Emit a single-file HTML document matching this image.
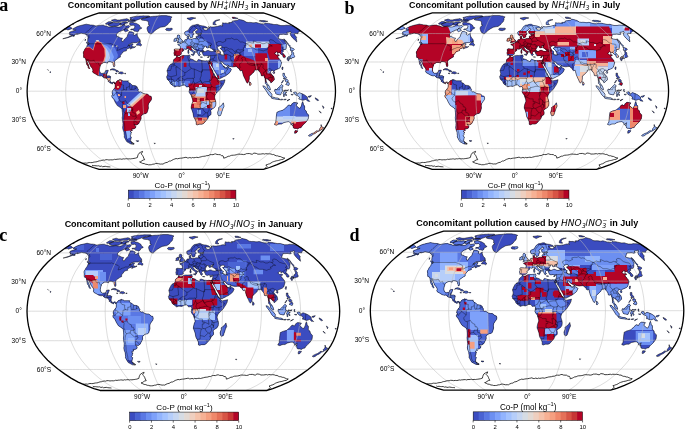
<!DOCTYPE html><html><head><meta charset="utf-8"><style>html,body{margin:0;padding:0;background:#fff;overflow:hidden;}svg{display:block;}.tl{font-family:"Liberation Sans",sans-serif;fill:#000;}.cb{font-family:"Liberation Sans",sans-serif;fill:#000;}.tt{font-family:"Liberation Sans",sans-serif;font-weight:bold;fill:#000;}.it{font-family:"DejaVu Sans","Liberation Sans",sans-serif;font-style:oblique;font-weight:normal;}.sl{font-family:"Liberation Sans",sans-serif;font-style:normal;}.pl{font-family:"Liberation Serif",serif;font-size:18px;font-weight:bold;fill:#000;}</style></head><body>
<svg width="685" height="429" viewBox="0 0 685 429">
<rect width="685" height="429" fill="#fff"/>
<defs>
<path id="land" d="M-108.6,-62.3L-106.4,-63.5L-104.2,-64.6L-102.5,-65.2L-100.7,-65.7L-99.3,-66.0L-97.8,-66.4L-96.4,-66.7L-95.0,-67.0L-94.2,-66.9L-93.5,-66.7L-92.7,-66.6L-91.7,-66.4L-90.8,-66.2L-89.8,-66.2L-88.9,-66.1L-87.9,-66.0L-87.1,-65.7L-86.2,-65.4L-85.3,-65.2L-84.2,-65.4L-83.0,-65.6L-81.5,-65.8L-80.0,-66.0L-79.0,-66.0L-78.0,-66.1L-77.4,-65.8L-76.9,-65.5L-75.8,-65.3L-74.7,-65.2L-74.0,-64.8L-73.3,-64.5L-72.6,-64.2L-71.5,-64.2L-70.4,-64.3L-69.3,-64.3L-67.8,-64.5L-66.4,-64.7L-65.6,-64.5L-64.7,-64.3L-63.8,-64.1L-62.9,-64.1L-61.9,-64.2L-60.1,-64.7L-58.3,-66.1L-56.5,-67.5L-56.6,-66.0L-56.1,-65.5L-55.6,-65.0L-54.0,-65.4L-52.5,-65.7L-51.9,-65.2L-51.4,-64.7L-52.3,-63.8L-53.3,-62.9L-54.3,-63.0L-55.4,-63.1L-56.9,-61.4L-58.4,-61.0L-59.8,-60.5L-61.4,-59.7L-63.1,-58.8L-65.0,-57.0L-64.7,-56.3L-64.6,-54.9L-63.6,-54.6L-62.5,-54.3L-61.6,-53.8L-60.6,-53.2L-59.7,-53.1L-58.8,-53.0L-59.3,-52.1L-59.8,-51.1L-59.2,-49.7L-58.1,-49.7L-57.5,-50.9L-56.8,-52.0L-55.5,-53.2L-54.2,-54.3L-53.8,-56.1L-52.8,-57.9L-52.3,-59.5L-51.2,-59.5L-50.2,-59.5L-49.3,-59.2L-48.5,-58.9L-47.4,-58.3L-48.0,-56.6L-46.9,-55.9L-45.6,-56.6L-44.0,-57.7L-44.1,-56.1L-43.4,-54.3L-42.8,-53.1L-42.2,-52.6L-41.5,-52.0L-41.0,-50.4L-42.3,-49.6L-43.4,-49.1L-44.5,-48.5L-46.0,-48.5L-47.5,-48.5L-48.5,-48.4L-49.4,-48.3L-51.3,-47.4L-53.4,-45.7L-52.5,-46.0L-50.9,-46.7L-49.4,-47.5L-48.1,-47.2L-48.9,-46.2L-49.3,-45.5L-49.2,-44.7L-48.1,-44.5L-47.0,-44.2L-45.7,-44.7L-45.7,-44.4L-46.8,-43.8L-47.8,-43.4L-48.9,-43.1L-49.9,-42.6L-50.8,-42.1L-51.0,-42.9L-49.7,-43.9L-51.0,-43.7L-51.7,-43.2L-53.3,-42.6L-54.3,-42.2L-55.1,-41.3L-54.7,-40.5L-55.9,-40.1L-56.9,-39.9L-58.2,-39.4L-58.6,-38.5L-59.5,-37.7L-59.9,-37.0L-60.9,-35.9L-60.9,-34.9L-60.9,-34.1L-61.9,-33.7L-63.2,-32.9L-64.5,-32.0L-66.0,-31.0L-66.8,-29.6L-66.7,-28.5L-66.6,-27.4L-66.4,-25.7L-67.0,-24.4L-67.6,-24.5L-67.9,-25.7L-68.4,-27.2L-68.2,-28.1L-68.9,-29.0L-69.5,-29.0L-71.0,-29.5L-72.3,-29.6L-73.6,-29.3L-73.7,-28.1L-74.6,-28.3L-76.2,-28.7L-77.8,-28.6L-79.8,-27.3L-80.7,-26.5L-81.1,-24.9L-81.6,-23.3L-81.9,-21.3L-81.7,-20.0L-81.1,-18.6L-80.1,-18.0L-79.5,-17.7L-78.0,-18.0L-77.0,-18.0L-76.2,-19.2L-75.9,-20.4L-74.3,-20.9L-73.0,-20.9L-73.5,-19.4L-74.1,-17.9L-74.6,-16.8L-75.0,-15.4L-74.1,-15.3L-72.4,-15.4L-71.2,-15.1L-70.6,-14.4L-71.0,-12.6L-71.3,-10.9L-70.8,-9.7L-70.0,-8.7L-69.1,-8.6L-68.1,-9.2L-67.0,-9.0L-66.1,-8.3L-66.5,-7.3L-67.0,-8.0L-67.9,-8.6L-68.7,-8.0L-68.7,-7.2L-69.4,-7.4L-70.4,-8.0L-71.4,-8.3L-72.3,-9.5L-73.1,-9.6L-73.1,-10.7L-74.0,-12.1L-74.5,-12.8L-76.1,-13.1L-77.7,-13.5L-78.5,-14.1L-79.6,-15.5L-80.9,-15.2L-82.2,-15.4L-83.4,-15.8L-85.0,-16.7L-86.1,-17.4L-87.1,-17.9L-88.1,-18.4L-88.8,-19.8L-88.3,-21.0L-88.8,-22.5L-89.7,-23.8L-90.7,-25.0L-91.5,-26.7L-92.0,-27.9L-92.6,-29.1L-92.7,-30.3L-93.8,-30.7L-94.3,-29.6L-93.7,-28.1L-93.0,-26.7L-92.7,-25.2L-92.2,-23.8L-91.6,-22.8L-92.0,-22.2L-92.4,-22.8L-93.3,-23.9L-93.3,-25.4L-94.2,-26.0L-94.7,-27.2L-95.0,-28.9L-95.3,-30.5L-95.5,-31.6L-95.9,-33.0L-96.7,-33.4L-97.6,-33.6L-97.8,-35.5L-97.7,-36.7L-98.0,-38.3L-97.9,-39.3L-97.0,-40.7L-96.4,-42.1L-95.5,-43.3L-94.6,-44.5L-94.2,-45.7L-93.7,-46.8L-92.5,-46.7L-92.1,-47.8L-93.0,-48.8L-93.8,-49.7L-93.6,-50.9L-93.5,-52.3L-93.3,-53.4L-93.5,-54.8L-93.9,-55.3L-94.2,-55.9L-95.1,-56.4L-95.6,-56.7L-96.0,-57.1L-96.7,-57.3L-97.4,-57.5L-98.2,-57.6L-98.9,-57.7L-99.6,-57.9L-100.2,-58.1L-102.5,-57.3L-103.6,-57.0L-104.6,-56.7L-104.1,-57.6L-106.3,-56.6L-107.7,-55.7L-110.0,-54.8L-112.4,-53.9L-113.6,-53.5L-114.9,-53.2L-116.1,-52.9L-117.2,-52.7L-118.5,-52.4L-117.2,-52.8L-115.9,-53.2L-114.7,-53.5L-113.5,-53.9L-110.6,-55.2L-108.7,-56.3L-110.2,-56.2L-111.0,-56.2L-111.8,-56.3L-110.9,-57.4L-111.6,-57.5L-112.2,-57.7L-111.7,-58.5L-111.9,-58.9L-109.8,-59.8L-108.1,-60.3L-105.9,-61.0L-105.2,-61.4L-105.9,-61.4L-106.6,-61.4L-107.9,-61.4L-108.4,-61.8ZM-66.1,-8.3L-65.6,-8.3L-64.4,-10.2L-63.5,-10.7L-62.4,-11.0L-61.3,-11.8L-60.9,-11.2L-61.2,-11.2L-59.8,-11.2L-59.4,-11.2L-58.4,-10.3L-57.3,-10.3L-56.3,-10.3L-54.7,-10.3L-53.3,-10.3L-52.8,-10.4L-53.3,-9.8L-52.1,-8.2L-51.1,-8.0L-49.7,-6.6L-48.7,-5.8L-47.0,-5.7L-46.0,-5.5L-44.5,-4.7L-44.1,-4.1L-43.7,-2.9L-42.8,-1.7L-43.3,-0.5L-42.8,0.0L-41.5,1.0L-40.7,0.6L-39.4,1.4L-38.1,2.2L-37.0,2.5L-36.0,2.7L-34.2,2.8L-33.0,3.6L-31.7,4.8L-30.2,5.1L-29.7,7.0L-30.0,8.7L-31.5,10.7L-32.7,12.5L-32.9,13.5L-33.1,14.5L-33.0,15.8L-32.9,17.0L-33.4,18.9L-33.8,20.1L-34.2,21.2L-35.2,22.3L-36.2,22.5L-37.2,22.6L-38.8,23.4L-40.3,25.2L-40.2,26.4L-40.2,27.6L-41.1,29.6L-41.7,30.6L-42.6,32.5L-43.4,33.0L-44.4,33.8L-45.7,33.7L-47.4,33.0L-46.2,34.4L-45.5,35.3L-45.8,36.8L-46.7,37.3L-47.6,37.7L-48.6,37.7L-49.5,37.6L-48.9,39.3L-49.8,39.5L-50.7,39.7L-50.8,40.7L-49.5,41.4L-50.4,41.9L-50.3,43.6L-51.4,44.7L-49.9,45.9L-50.2,47.0L-50.5,48.1L-50.7,49.7L-50.0,50.5L-49.7,51.1L-48.5,51.9L-47.3,52.8L-48.3,52.9L-49.2,52.9L-50.1,52.9L-51.3,52.3L-52.5,51.6L-54.4,50.6L-55.1,49.5L-55.8,48.3L-56.4,47.1L-57.1,45.9L-56.9,44.5L-57.2,42.6L-57.3,41.2L-57.7,40.0L-58.2,38.8L-58.5,37.6L-58.7,36.4L-58.4,34.4L-58.4,33.2L-58.3,32.0L-58.6,30.5L-58.8,29.1L-58.9,27.9L-59.1,26.7L-58.9,25.5L-58.8,24.2L-58.8,22.8L-58.9,21.3L-59.1,19.6L-59.3,17.9L-60.4,16.8L-61.8,15.8L-62.9,15.1L-64.0,14.4L-64.8,13.1L-66.0,11.2L-66.7,9.7L-67.4,8.2L-68.4,7.0L-69.4,5.8L-69.5,4.4L-68.7,3.3L-68.5,2.4L-69.3,2.1L-69.0,0.5L-68.6,-0.8L-67.7,-1.5L-67.4,-2.4L-66.3,-3.4L-66.1,-5.3L-66.2,-6.8L-66.6,-7.2ZM28.0,-30.4L26.5,-30.3L25.0,-30.5L24.5,-30.3L23.5,-30.3L22.5,-30.4L21.6,-30.5L20.6,-30.6L19.2,-31.2L18.1,-31.5L17.1,-31.8L16.3,-31.0L16.4,-30.0L15.6,-29.4L14.3,-30.1L12.7,-30.5L12.4,-31.3L10.7,-31.9L9.4,-32.2L8.5,-32.7L8.3,-33.5L8.9,-34.4L8.4,-35.4L8.8,-35.9L8.2,-36.1L7.2,-36.0L6.4,-35.8L5.2,-35.7L4.0,-35.6L2.4,-35.7L0.8,-35.4L-0.8,-34.6L-1.8,-34.0L-3.2,-34.1L-4.3,-34.8L-4.7,-34.7L-5.1,-33.9L-5.5,-33.0L-6.9,-32.3L-7.6,-31.5L-8.0,-30.1L-7.9,-29.5L-8.2,-28.6L-9.5,-27.3L-10.8,-26.8L-12.1,-25.4L-12.6,-24.3L-13.2,-23.3L-13.8,-21.8L-14.3,-20.4L-13.9,-18.9L-13.6,-17.5L-14.0,-15.7L-14.8,-14.3L-14.3,-13.1L-14.2,-12.0L-13.2,-11.2L-12.4,-10.5L-11.5,-9.3L-11.2,-8.2L-10.7,-7.3L-9.8,-6.7L-8.7,-5.8L-7.8,-5.1L-6.8,-4.4L-6.4,-4.3L-4.7,-4.9L-3.4,-5.0L-1.7,-4.7L0.0,-5.4L1.3,-6.0L3.0,-6.2L3.8,-6.0L4.7,-4.8L5.1,-4.2L6.0,-4.3L7.3,-4.5L8.1,-3.9L8.4,-2.9L8.2,-1.5L8.0,-0.5L7.7,0.7L8.6,2.4L9.6,3.7L10.3,4.8L10.5,5.9L10.9,7.1L11.3,8.2L11.6,10.2L11.1,11.4L10.6,12.6L10.3,14.0L10.0,15.3L9.9,17.0L10.5,18.4L11.1,20.1L11.7,21.8L11.9,23.0L12.1,24.2L12.6,26.2L13.6,27.7L14.4,29.6L14.9,31.0L14.9,33.0L15.0,33.4L16.2,33.7L17.8,33.0L19.3,33.0L20.7,33.0L22.4,32.2L23.7,30.7L25.1,29.1L26.4,27.6L26.9,26.4L27.3,25.2L28.2,24.5L29.2,23.8L29.7,23.1L29.8,21.3L29.4,19.7L29.3,19.2L30.8,17.9L31.9,17.2L33.0,16.5L34.3,14.5L34.5,13.1L34.6,11.6L34.3,10.0L34.0,8.9L33.7,7.8L33.3,6.3L33.5,4.6L34.4,2.7L35.5,1.6L36.4,0.6L37.3,-0.5L39.0,-1.9L39.8,-3.2L40.6,-4.4L41.9,-6.3L42.5,-7.5L43.1,-8.7L43.4,-10.1L43.7,-11.4L42.2,-11.0L41.1,-10.8L40.0,-10.6L38.4,-10.1L37.1,-11.0L36.8,-11.2L36.2,-12.2L35.2,-13.5L33.9,-15.0L32.9,-17.0L31.4,-18.9L31.2,-20.4L30.6,-21.8L29.7,-23.2L29.2,-24.2L28.7,-25.2L27.7,-27.0L27.3,-28.0L26.8,-29.0L27.3,-27.6L28.5,-27.0L28.7,-28.6ZM28.7,-28.6L29.4,-27.2L30.4,-25.2L31.7,-23.3L32.3,-22.1L32.9,-20.9L34.1,-18.9L34.8,-17.7L35.5,-16.5L36.2,-14.5L36.5,-13.4L36.8,-12.3L38.3,-12.4L39.5,-13.0L40.8,-13.6L42.4,-14.5L43.3,-14.9L44.2,-15.3L45.7,-16.4L46.9,-17.3L47.9,-18.1L48.7,-18.9L49.2,-19.9L50.1,-21.8L49.1,-22.9L47.8,-23.2L47.0,-24.1L46.8,-25.6L46.2,-24.7L45.5,-23.6L44.5,-23.4L43.4,-23.3L43.0,-24.4L42.6,-25.3L42.4,-24.1L41.7,-25.5L41.0,-26.4L40.1,-27.6L39.5,-29.0L40.2,-29.4L41.3,-29.1L42.1,-27.8L43.5,-26.7L45.3,-25.8L46.6,-26.3L47.7,-25.0L48.6,-24.8L49.6,-24.6L51.3,-24.3L52.3,-24.4L53.3,-24.5L54.4,-24.6L55.5,-24.6L56.4,-23.3L57.3,-22.8L58.6,-22.1L57.8,-21.6L59.2,-20.4L60.8,-20.9L61.1,-19.6L61.4,-18.4L61.8,-17.0L62.2,-15.5L62.8,-14.3L63.3,-13.1L64.3,-11.2L65.1,-9.2L66.2,-7.9L66.7,-8.7L67.6,-10.0L67.8,-11.3L68.0,-12.6L68.0,-13.8L68.0,-15.0L68.8,-15.6L69.6,-16.2L70.9,-17.7L71.8,-18.5L72.8,-19.3L73.0,-20.9L74.2,-21.1L75.9,-21.3L76.9,-21.7L77.6,-20.1L78.7,-18.9L79.6,-17.5L80.0,-15.5L80.9,-15.3L82.5,-16.0L82.9,-14.5L83.7,-12.6L83.9,-11.2L84.1,-9.7L84.0,-7.8L85.5,-6.3L85.8,-5.1L86.0,-3.9L86.7,-2.7L87.7,-2.0L88.6,-1.3L89.2,-1.5L88.9,-2.7L88.5,-3.9L87.9,-4.9L87.4,-6.0L85.9,-7.1L85.6,-8.1L85.3,-9.2L84.6,-10.2L84.6,-12.1L85.1,-13.1L85.8,-12.3L87.2,-11.6L87.8,-10.5L89.1,-10.1L89.5,-8.3L90.9,-9.2L91.6,-10.2L93.0,-11.2L92.9,-13.1L92.2,-15.0L90.5,-16.5L89.2,-18.4L89.5,-19.9L90.6,-20.9L91.5,-20.9L92.5,-19.7L92.8,-20.4L93.9,-21.1L95.1,-21.6L96.3,-22.1L97.8,-22.8L98.9,-23.8L99.4,-25.2L99.8,-26.7L100.2,-28.1L100.3,-29.1L99.3,-29.9L99.7,-30.5L98.5,-31.5L97.4,-33.3L96.3,-33.9L96.5,-34.9L97.3,-35.4L98.1,-35.9L96.6,-36.6L95.2,-36.1L93.9,-37.1L93.2,-37.8L94.2,-38.3L95.1,-39.5L96.1,-39.3L96.3,-37.6L97.0,-38.3L98.1,-38.7L99.8,-36.8L101.1,-36.4L101.5,-35.2L102.0,-33.9L103.2,-33.5L104.3,-34.1L103.9,-35.4L102.3,-37.1L100.8,-38.6L101.4,-39.1L102.0,-39.5L101.9,-41.0L102.5,-41.7L103.8,-41.5L104.8,-42.4L105.0,-43.9L105.0,-45.5L105.4,-46.9L104.1,-48.8L103.4,-50.4L101.9,-51.6L100.5,-51.8L99.2,-52.0L98.0,-52.4L96.9,-52.8L97.2,-53.9L97.5,-54.7L97.7,-55.5L98.0,-56.1L98.2,-56.7L99.4,-56.8L100.5,-56.8L101.5,-56.9L102.4,-57.0L103.7,-56.8L105.0,-56.6L105.7,-56.7L106.4,-56.8L106.0,-57.5L105.5,-58.8L106.6,-58.9L107.6,-59.0L108.4,-59.3L109.2,-59.7L109.8,-58.3L108.9,-57.9L109.2,-56.8L109.4,-55.7L110.5,-54.3L111.6,-52.9L113.6,-51.1L115.5,-49.2L115.3,-51.0L114.9,-52.5L115.1,-53.2L115.3,-53.9L113.8,-55.7L113.0,-57.3L113.3,-57.6L113.7,-57.9L115.2,-57.7L116.6,-57.5L116.7,-58.1L116.7,-58.8L117.4,-59.2L118.2,-59.7L118.9,-60.1L117.1,-61.8L114.7,-63.5L112.2,-65.1L110.4,-65.4L108.6,-65.8L107.3,-65.9L106.0,-65.9L104.7,-66.0L103.7,-65.8L102.8,-65.6L101.7,-65.6L100.7,-65.6L99.6,-65.6L97.5,-66.2L95.5,-66.8L94.5,-66.7L93.5,-66.7L92.6,-66.7L90.8,-67.1L89.1,-67.4L87.4,-67.8L86.1,-67.9L84.8,-67.9L83.6,-68.0L83.2,-67.6L82.8,-67.2L81.7,-67.3L80.6,-67.3L79.5,-67.4L78.4,-67.7L77.3,-68.0L76.0,-68.4L74.8,-68.7L74.2,-68.7L73.3,-68.5L72.3,-68.4L71.2,-68.5L70.0,-68.7L68.8,-68.8L67.8,-68.8L66.9,-68.7L65.9,-68.9L64.9,-69.1L62.5,-70.6L60.8,-71.1L59.2,-71.5L57.5,-71.9L57.0,-71.5L56.4,-71.0L55.5,-70.8L54.5,-70.6L53.7,-70.5L52.9,-70.4L52.1,-70.3L51.3,-69.9L50.5,-69.5L50.7,-68.7L49.6,-68.7L48.5,-68.7L47.4,-68.7L48.1,-67.6L46.7,-67.8L45.5,-68.0L44.3,-68.2L43.3,-68.0L42.2,-68.2L41.2,-68.4L41.4,-67.2L40.7,-66.4L41.7,-65.2L40.4,-65.4L39.0,-65.6L38.2,-65.4L37.4,-65.2L36.5,-64.9L35.7,-64.7L34.8,-64.6L33.9,-64.5L32.8,-64.3L31.6,-64.2L30.2,-64.3L28.9,-64.5L28.0,-63.5L27.2,-64.7L27.6,-63.8L28.0,-62.8L27.2,-62.7L26.4,-62.7L26.2,-61.4L25.4,-61.2L24.7,-61.0L23.8,-61.1L22.9,-61.2L22.2,-62.7L21.1,-63.1L22.1,-63.2L23.0,-63.3L24.1,-63.2L25.2,-63.2L26.3,-63.1L25.3,-64.2L23.8,-64.7L22.4,-65.2L21.5,-65.3L20.5,-65.4L19.5,-65.6L18.5,-65.8L17.0,-66.8L16.4,-66.8L15.7,-66.9L14.6,-66.5L13.5,-66.2L12.3,-66.0L11.1,-65.8L10.3,-65.2L9.4,-64.6L8.3,-63.1L7.5,-61.8L6.6,-60.5L5.6,-60.2L4.7,-59.9L3.4,-59.0L3.4,-57.5L3.8,-56.4L4.9,-55.7L5.9,-55.9L6.9,-56.6L7.6,-56.4L8.2,-55.4L8.8,-54.3L9.2,-53.4L10.2,-53.5L11.3,-54.0L11.6,-55.2L11.4,-56.1L12.7,-56.9L12.3,-57.9L11.7,-58.8L11.7,-59.7L12.6,-60.2L13.5,-60.8L14.0,-61.6L14.8,-62.1L15.5,-62.5L16.6,-61.8L16.3,-61.0L15.3,-60.5L14.3,-60.1L14.4,-58.8L14.6,-57.9L15.7,-57.3L16.4,-57.5L17.1,-57.6L18.1,-57.8L19.1,-57.9L20.4,-57.5L19.2,-57.0L18.2,-56.9L17.4,-56.9L16.5,-56.8L16.3,-56.1L17.0,-55.5L16.9,-54.8L15.4,-55.2L14.8,-54.6L15.0,-53.4L14.2,-52.5L13.3,-52.7L11.9,-52.5L11.1,-52.2L10.2,-51.9L9.4,-52.1L8.6,-52.2L7.9,-52.0L7.8,-52.6L7.1,-52.8L7.4,-54.3L7.4,-55.4L6.7,-54.9L5.8,-54.6L5.8,-53.4L6.2,-52.0L5.1,-51.6L3.6,-51.4L3.3,-50.6L2.8,-49.7L1.8,-49.3L1.2,-49.1L1.1,-48.5L0.1,-48.0L-0.9,-47.7L-1.1,-48.0L-1.4,-47.1L-2.2,-47.2L-3.5,-46.9L-3.2,-46.2L-1.9,-45.8L-1.1,-44.7L-0.9,-43.3L-1.2,-42.0L-2.7,-42.1L-4.3,-42.2L-5.2,-42.3L-6.2,-42.3L-7.1,-41.8L-7.0,-40.7L-6.9,-39.7L-7.4,-38.3L-7.3,-37.4L-7.0,-36.7L-7.2,-35.9L-6.0,-36.0L-5.0,-35.7L-4.5,-34.9L-3.6,-35.6L-2.7,-35.6L-1.8,-35.6L-0.6,-36.5L0.2,-37.5L-0.2,-38.3L0.6,-39.4L1.7,-40.1L2.5,-40.7L2.3,-41.7L3.1,-42.1L4.7,-41.8L5.8,-42.4L6.8,-43.0L7.9,-42.5L8.2,-41.6L9.4,-40.6L10.6,-39.9L11.8,-39.0L12.5,-37.3L12.8,-36.8L13.2,-37.7L13.6,-38.2L13.0,-39.0L13.6,-39.3L14.6,-38.9L14.2,-39.4L12.5,-40.2L10.9,-41.2L10.5,-42.2L9.5,-43.1L9.4,-44.0L10.5,-44.2L10.4,-43.6L11.1,-43.9L12.0,-42.6L13.6,-41.7L14.8,-40.8L15.3,-39.7L15.2,-39.2L15.8,-38.5L16.7,-37.3L17.2,-35.9L18.1,-35.3L18.4,-36.4L19.2,-36.6L18.3,-37.3L18.0,-38.3L18.5,-39.0L19.3,-39.6L20.4,-39.5L20.9,-39.3L21.6,-39.6L22.8,-39.9L21.9,-40.7L21.5,-41.7L22.1,-42.8L22.8,-43.8L23.2,-45.0L24.3,-45.0L25.6,-44.5L24.9,-44.0L25.8,-43.1L26.9,-43.4L28.0,-43.9L27.2,-44.1L26.7,-44.8L27.5,-45.2L28.4,-45.6L29.7,-45.7L28.9,-45.0L28.7,-43.9L28.4,-43.6L29.3,-43.0L30.5,-42.4L32.4,-40.9L32.6,-40.3L31.4,-39.7L30.3,-39.6L28.6,-40.0L27.3,-40.7L25.8,-40.6L24.3,-39.8L22.9,-39.8L22.8,-39.4L21.3,-39.2L20.7,-38.8L21.3,-37.6L21.7,-36.7L22.0,-35.9L22.5,-35.6L23.7,-35.1L24.5,-35.7L25.7,-35.4L27.3,-35.2L28.5,-35.5L29.0,-35.5L28.8,-34.7L29.1,-33.5L28.8,-32.5L28.5,-31.8L28.3,-30.9L28.0,-30.4ZM-44.0,-59.2L-42.3,-60.5L-42.4,-61.6L-41.2,-62.1L-39.9,-62.7L-39.5,-63.3L-40.4,-63.8L-41.3,-64.3L-41.6,-65.2L-41.9,-66.0L-42.5,-66.4L-43.2,-66.8L-44.0,-67.3L-44.9,-67.8L-45.9,-68.0L-47.0,-68.2L-47.7,-68.5L-48.5,-68.9L-49.5,-68.8L-50.5,-68.6L-51.5,-68.5L-51.7,-67.6L-51.5,-66.8L-51.4,-66.0L-50.4,-65.9L-49.4,-65.8L-47.8,-66.2L-47.2,-65.4L-46.7,-64.9L-46.3,-64.3L-46.8,-63.7L-46.4,-63.1L-48.2,-62.2L-49.3,-62.1L-50.3,-62.1L-50.7,-61.4L-49.7,-61.4L-48.7,-61.5L-47.7,-61.0L-47.2,-60.1L-46.4,-60.0L-45.6,-59.9L-44.8,-59.6ZM-72.0,-67.4L-69.7,-68.4L-68.5,-68.5L-67.2,-68.7L-66.2,-68.5L-65.2,-68.4L-63.9,-68.5L-62.5,-68.7L-61.8,-68.5L-61.1,-68.4L-60.3,-68.2L-60.9,-67.3L-61.5,-66.4L-62.9,-65.7L-64.3,-65.0L-65.5,-65.0L-66.7,-65.1L-68.1,-64.9L-69.5,-64.7L-70.6,-64.9L-71.6,-65.2L-72.3,-65.6L-72.9,-66.0L-73.0,-66.8ZM-75.9,-67.4L-74.3,-68.5L-72.6,-69.5L-71.4,-69.5L-70.3,-69.5L-69.7,-69.3L-69.2,-69.0L-68.6,-68.7L-70.7,-67.7L-72.1,-67.3L-73.4,-66.9L-74.3,-66.9L-75.2,-66.9ZM-51.1,-71.2L-50.2,-71.1L-49.2,-71.0L-48.2,-71.0L-47.3,-70.9L-46.3,-70.9L-45.3,-70.8L-44.0,-71.3L-42.7,-71.7L-41.4,-72.2L-40.2,-72.7L-38.8,-73.0L-37.4,-73.3L-36.3,-73.6L-35.2,-73.8L-34.1,-74.0L-32.8,-74.4L-31.4,-74.7L-31.9,-75.0L-32.4,-75.3L-33.3,-75.3L-34.2,-75.3L-35.2,-75.3L-36.1,-75.3L-37.0,-75.3L-37.9,-75.4L-38.9,-75.3L-39.9,-75.2L-40.9,-75.2L-41.9,-75.1L-43.0,-75.0L-44.0,-75.0L-45.1,-74.8L-46.2,-74.6L-47.3,-74.5L-48.4,-74.3L-49.9,-73.9L-51.4,-73.5L-51.2,-73.1L-51.0,-72.7L-50.4,-72.5L-49.9,-72.2L-51.3,-71.5ZM-53.5,-69.7L-51.9,-70.9L-50.7,-71.0L-49.5,-71.1L-48.5,-71.0L-47.4,-71.0L-46.3,-70.9L-46.0,-70.5L-45.7,-70.0L-47.0,-69.7L-48.3,-69.4L-49.4,-69.5L-50.6,-69.5L-51.7,-69.5L-52.6,-69.6ZM-61.3,-67.6L-58.6,-69.0L-57.5,-69.1L-56.5,-69.1L-55.4,-69.2L-54.3,-69.2L-53.9,-68.9L-53.5,-68.5L-55.0,-68.0L-56.5,-67.6L-58.4,-66.4L-59.5,-66.2L-60.6,-66.0L-61.3,-66.6ZM-56.9,-61.4L-55.4,-62.7L-54.5,-62.2L-53.7,-61.8L-53.3,-61.2L-52.9,-60.5L-54.4,-60.0L-55.9,-59.4L-56.6,-60.0L-57.2,-60.5ZM-69.9,-71.0L-68.1,-71.5L-66.2,-72.0L-65.5,-71.7L-64.7,-71.5L-64.0,-71.2L-62.8,-71.2L-61.7,-71.2L-60.2,-71.5L-58.7,-71.8L-57.3,-72.0L-55.9,-72.2L-54.6,-72.5L-53.8,-72.2L-53.0,-72.0L-52.7,-71.5L-52.4,-71.0L-54.1,-70.5L-55.8,-70.0L-56.8,-70.0L-57.8,-70.0L-58.8,-70.0L-59.8,-70.0L-61.2,-69.8L-62.6,-69.6L-63.7,-69.5L-64.7,-69.5L-65.7,-69.4L-66.7,-69.6L-67.7,-69.7L-68.4,-70.0L-69.2,-70.3L-69.5,-70.7ZM-44.9,-46.0L-43.6,-46.0L-42.3,-46.0L-41.5,-45.6L-40.7,-45.2L-39.8,-45.9L-40.0,-46.9L-40.6,-47.5L-41.3,-48.1L-40.8,-49.8L-42.0,-49.5L-43.6,-47.8L-44.6,-46.8ZM-29.8,-57.3L-28.3,-58.8L-26.4,-60.5L-25.2,-61.4L-24.0,-62.2L-22.4,-63.1L-20.9,-63.9L-19.7,-64.1L-18.6,-64.3L-17.4,-64.5L-16.3,-64.7L-15.0,-65.6L-13.8,-66.4L-12.8,-68.0L-11.9,-68.7L-11.0,-69.5L-10.7,-70.5L-10.3,-71.4L-10.4,-72.3L-10.5,-73.1L-9.2,-74.1L-9.9,-74.4L-10.6,-74.6L-11.3,-74.9L-12.2,-75.1L-13.2,-75.2L-14.1,-75.4L-15.1,-75.6L-16.1,-75.6L-17.1,-75.6L-18.1,-75.6L-19.1,-75.6L-20.1,-75.6L-21.2,-75.5L-22.2,-75.4L-23.3,-75.2L-24.4,-75.1L-25.5,-75.0L-26.6,-74.9L-27.7,-74.9L-28.8,-74.8L-29.9,-74.7L-31.1,-74.5L-32.3,-74.3L-33.5,-74.1L-34.7,-73.6L-36.0,-73.1L-37.1,-72.9L-38.2,-72.7L-39.3,-72.5L-40.4,-71.7L-39.7,-71.4L-38.9,-71.0L-38.0,-70.9L-37.1,-70.8L-36.1,-70.7L-35.2,-70.6L-34.5,-70.3L-33.7,-70.0L-33.0,-69.7L-32.9,-68.9L-32.8,-68.0L-32.9,-66.6L-32.2,-66.2L-31.5,-65.8L-32.5,-65.3L-33.5,-64.7L-34.3,-63.1L-34.0,-61.4L-33.4,-59.7L-32.5,-58.3L-31.8,-58.0L-31.1,-57.6ZM-15.5,-62.2L-14.4,-63.0L-13.5,-62.9L-12.5,-62.9L-11.6,-62.8L-10.4,-62.9L-9.3,-62.9L-8.8,-62.0L-9.8,-61.2L-11.0,-60.8L-12.2,-60.4L-13.5,-60.6L-14.8,-60.8L-15.7,-61.6ZM-71.3,-21.2L-70.3,-22.0L-68.6,-22.5L-67.0,-22.3L-66.0,-21.7L-65.0,-21.1L-63.4,-20.5L-62.4,-19.6L-63.8,-19.4L-65.2,-19.3L-65.2,-20.1L-65.9,-20.9L-66.9,-21.0L-67.9,-21.1L-69.3,-21.5L-70.3,-21.3L-71.2,-21.1ZM-62.8,-17.8L-61.7,-19.3L-60.6,-19.3L-58.9,-19.2L-57.6,-18.0L-58.1,-17.7L-59.1,-17.4L-60.2,-17.2L-61.2,-17.7L-62.8,-17.7ZM-66.1,-17.8L-64.4,-17.7L-64.8,-17.4L-66.0,-17.7ZM-56.7,-17.9L-55.3,-17.8L-55.6,-17.5L-56.7,-17.5ZM42.0,11.6L42.4,13.3L42.8,15.0L41.8,17.0L41.3,18.4L40.8,19.9L40.2,21.6L39.7,23.3L39.3,24.2L37.6,24.7L36.7,23.8L36.5,22.5L36.3,21.3L36.9,19.4L37.5,17.9L37.2,16.5L38.5,15.5L40.3,14.1L41.2,12.9ZM-4.2,-48.3L-3.4,-48.5L-2.6,-48.6L-1.7,-48.8L-0.7,-49.0L0.1,-49.2L1.0,-49.4L1.2,-50.8L0.2,-51.3L-0.1,-52.1L-0.9,-52.8L-1.1,-53.5L-1.8,-53.9L-1.4,-54.8L-1.3,-55.3L-2.3,-56.2L-3.5,-56.2L-4.0,-55.2L-4.0,-54.1L-4.3,-53.5L-3.4,-52.8L-2.4,-52.8L-2.2,-51.7L-3.3,-51.5L-3.1,-50.6L-3.9,-50.0L-2.6,-49.6L-3.3,-49.2ZM-4.4,-50.2L-4.7,-51.1L-4.3,-52.0L-4.0,-52.5L-4.5,-53.1L-5.2,-53.1L-5.9,-53.1L-6.1,-52.5L-7.2,-52.2L-7.1,-51.1L-7.6,-50.0L-6.1,-49.9L-4.8,-50.3ZM9.9,-36.7L11.2,-36.9L12.4,-37.1L12.1,-35.6L11.1,-36.0L10.1,-36.4ZM6.7,-37.8L7.6,-37.9L7.7,-39.3L7.3,-39.9L6.4,-39.6L6.6,-38.7ZM6.7,-40.1L7.4,-40.1L7.4,-41.7L6.7,-41.2ZM19.0,-34.2L20.1,-34.2L21.2,-34.1L21.0,-33.9L20.0,-34.0L19.0,-34.1ZM26.1,-33.7L27.5,-33.8L27.9,-34.6L26.6,-34.3ZM68.3,-6.0L68.9,-5.7L70.0,-7.1L69.3,-8.5L68.4,-9.5L68.2,-7.8ZM106.1,-33.0L106.8,-34.4L107.9,-34.5L109.1,-34.6L109.4,-36.1L110.5,-36.7L110.6,-38.3L110.1,-39.4L110.7,-40.0L111.4,-39.3L112.4,-38.3L112.4,-36.8L112.9,-35.7L113.4,-34.6L112.9,-33.8L112.3,-33.6L110.8,-33.6L110.8,-33.3L110.3,-32.5L109.5,-33.2L108.6,-33.2L107.7,-33.3L106.4,-32.9ZM105.4,-32.3L106.2,-32.9L107.4,-32.0L107.6,-30.5L106.7,-30.3L106.1,-31.6ZM107.6,-32.4L108.1,-33.3L109.0,-33.2L109.2,-32.7L108.4,-32.0L107.9,-31.9ZM109.7,-40.2L110.4,-40.5L111.9,-40.6L112.5,-41.3L113.1,-41.9L111.9,-42.8L110.2,-43.4L108.5,-44.0L109.1,-43.0L109.6,-41.9L108.9,-41.8L109.0,-41.1ZM108.4,-44.5L109.2,-45.0L108.1,-46.2L106.9,-47.4L106.1,-48.5L105.3,-49.7L103.6,-51.6L102.5,-52.3L102.8,-51.4L103.9,-50.3L104.9,-49.2L105.8,-48.1L106.6,-46.9L107.8,-45.3ZM100.5,-22.3L101.2,-21.3L101.6,-22.8L101.7,-24.2L100.9,-24.2ZM91.5,-18.6L92.4,-17.7L93.2,-18.0L93.4,-19.2L92.7,-19.5L91.9,-19.3ZM101.6,-15.5L101.6,-16.7L101.6,-17.9L103.1,-17.9L103.2,-16.0L104.3,-14.7L105.3,-13.4L104.6,-12.6L103.2,-13.4L102.4,-14.0ZM104.3,-6.8L105.5,-7.8L107.0,-9.5L107.6,-8.4L108.1,-7.3L107.3,-5.6L106.0,-6.1ZM103.9,-11.4L105.5,-12.1L106.9,-10.7L106.6,-9.7L105.0,-8.9L104.0,-10.2ZM100.1,-8.1L101.0,-9.6L101.9,-11.0L102.1,-10.3L101.3,-9.2L100.4,-8.0ZM102.2,-13.1L103.3,-12.8L103.1,-11.8L102.4,-12.2ZM81.5,-5.4L82.5,-5.2L83.4,-5.0L84.7,-3.5L86.1,-1.9L87.4,-0.7L88.7,0.5L89.5,1.7L90.7,3.1L90.6,4.4L90.5,5.6L89.4,5.7L88.5,4.8L87.6,3.9L86.8,2.7L86.1,1.5L84.8,-0.5L83.7,-2.1L82.2,-3.9ZM89.9,6.6L91.1,5.8L92.8,6.2L94.4,6.7L96.1,6.7L97.8,7.5L97.7,8.4L96.2,8.2L94.8,8.0L93.5,7.8L92.2,7.6L90.6,7.1ZM93.4,-1.5L93.9,-1.9L95.1,-1.6L96.7,-3.1L98.4,-4.8L99.2,-5.8L100.2,-6.8L102.0,-5.1L101.0,-4.4L100.9,-2.7L100.9,-1.0L101.9,-0.9L100.6,0.8L99.8,2.4L99.3,3.7L98.0,3.6L96.7,3.3L95.5,3.1L94.4,2.4L94.2,1.0L93.4,0.0ZM102.2,5.3L103.0,5.4L103.0,4.2L103.1,2.9L103.6,2.6L104.2,3.6L104.8,4.7L105.3,3.9L104.7,2.9L104.0,1.8L105.6,0.9L104.1,0.9L102.8,-0.5L103.6,-1.2L105.1,-0.8L106.6,-0.5L107.2,-1.5L106.2,-1.0L104.7,-0.8L103.2,-0.7L102.6,0.0L102.2,1.4L101.7,2.7L102.3,3.4ZM112.2,1.3L113.9,0.7L114.9,1.0L115.3,2.1L115.6,3.2L116.8,2.3L118.0,1.5L119.4,2.0L120.7,2.5L122.0,3.1L123.2,3.7L124.7,4.8L126.1,6.0L126.2,7.8L127.5,9.2L128.5,10.2L127.4,10.0L126.2,9.9L124.7,8.0L123.6,8.5L122.4,8.9L121.6,9.1L120.3,8.8L118.7,7.9L117.8,8.1L117.5,6.8L118.4,6.3L117.4,5.4L116.4,4.6L115.3,4.2L114.3,3.9L113.7,2.9L113.0,2.7ZM105.7,9.9L106.8,8.7L107.8,8.4L108.7,8.1L107.7,8.7L106.6,9.3ZM102.3,8.5L103.3,8.1L105.0,8.0L104.6,8.5L102.8,8.6ZM99.0,8.6L100.3,8.0L101.6,8.2L101.1,8.7L99.7,8.7ZM97.8,7.9L98.8,8.1L98.3,8.5ZM109.2,-1.7L110.1,-1.5L109.6,-0.5L110.3,0.6L109.5,0.5L109.3,-0.6ZM109.6,3.2L110.8,3.2L112.0,3.2L111.3,3.8L110.0,3.5ZM126.8,5.3L128.3,4.8L130.1,4.4L129.6,5.3L128.2,6.1L127.0,5.8ZM133.8,6.6L135.0,7.2L136.2,7.8L137.3,9.2L136.5,9.5L135.5,8.9L134.5,8.2ZM141.2,14.5L141.7,15.0L142.6,16.0L142.1,17.3L141.7,16.0L141.3,15.3ZM137.9,19.6L138.9,20.7L140.0,21.6L139.5,21.8L138.2,20.4ZM149.8,17.0L150.8,17.0L150.6,17.7L149.7,17.5ZM95.6,21.1L95.4,22.5L95.2,23.9L95.0,25.2L94.9,26.9L94.7,28.6L94.6,29.8L94.5,31.0L93.4,32.6L93.2,33.4L94.2,33.7L95.2,34.0L96.2,33.5L97.3,33.0L98.7,32.9L100.2,32.9L101.5,32.1L102.8,31.3L104.2,31.0L105.5,30.7L106.4,30.6L107.4,30.5L108.4,31.1L109.3,31.7L109.6,32.7L109.8,33.7L111.1,32.5L112.3,31.6L111.6,33.5L110.8,34.5L111.9,33.7L111.7,34.5L111.9,35.8L112.2,36.8L113.4,37.2L114.6,37.2L115.3,37.3L116.1,37.9L117.9,36.7L118.8,36.6L119.8,36.4L120.8,34.8L122.6,32.9L124.5,31.2L125.8,29.4L126.9,27.7L127.1,26.5L127.3,25.2L127.3,23.8L126.3,22.8L125.3,21.6L124.9,19.7L124.1,19.0L123.2,18.3L123.3,17.2L123.4,16.0L123.2,14.5L122.1,13.9L122.0,12.4L121.7,11.4L121.4,10.4L120.6,12.1L120.4,13.3L120.1,14.5L119.5,15.7L119.0,16.9L117.9,17.0L116.4,15.7L114.9,14.4L115.6,12.9L116.5,11.8L115.3,11.6L114.1,11.4L112.8,11.2L111.5,11.8L110.7,12.6L109.8,14.4L108.7,14.5L108.3,13.7L106.8,14.1L105.4,15.8L104.4,16.8L103.1,17.7L101.9,18.9L100.1,19.4L99.0,19.7L97.9,20.0L96.8,20.6ZM113.8,39.4L115.1,39.5L116.5,39.6L115.8,40.7L115.0,41.7L113.4,42.2L113.3,40.9ZM139.8,33.4L140.3,34.9L140.8,35.9L141.6,36.2L142.5,36.6L141.0,38.0L139.6,38.8L137.2,40.3L137.0,39.9L138.3,38.6L137.8,38.0L139.2,36.8L139.8,35.4L139.6,34.1ZM135.9,39.3L136.5,40.3L134.9,41.5L133.6,42.4L131.8,43.1L130.3,44.4L128.5,45.1L127.8,44.8L127.1,44.5L128.2,43.6L130.0,42.6L131.2,42.1L132.4,41.7L134.6,40.2ZM6.0,-72.5L7.0,-72.0L8.0,-71.5L9.0,-71.0L9.8,-71.4L10.5,-71.7L11.3,-72.1L12.0,-72.5L12.8,-72.7L13.7,-72.9L14.5,-73.1L13.5,-73.3L12.5,-73.5L11.5,-73.6L10.6,-73.8L9.7,-73.6L8.9,-73.5L8.0,-73.3L7.0,-73.2L5.9,-73.1ZM31.6,-66.8L32.6,-66.6L33.7,-66.4L34.4,-66.5L35.1,-66.5L33.4,-68.0L33.9,-69.1L34.6,-69.7L35.2,-70.3L35.9,-70.5L36.5,-70.8L37.2,-71.0L37.9,-71.2L38.6,-71.4L37.7,-71.4L36.8,-71.3L35.8,-71.3L35.1,-71.0L34.4,-70.8L33.6,-70.5L33.1,-70.0L32.5,-69.5L31.9,-68.5L31.8,-67.6ZM51.4,-72.8L52.5,-72.7L53.5,-72.6L54.6,-72.5L55.3,-72.6L56.1,-72.7L56.8,-72.8L55.3,-73.3L53.8,-73.8L52.9,-73.9L51.9,-73.9L50.9,-74.0ZM77.9,-70.3L79.4,-69.9L80.9,-69.5L82.5,-69.1L83.3,-69.3L84.1,-69.4L84.9,-69.6L85.7,-69.7L86.5,-69.9L85.1,-70.1L83.7,-70.4L82.4,-70.6L81.2,-70.7L79.9,-70.7L78.7,-70.8L78.3,-70.5ZM-108.8,-67.2L-108.3,-66.8L-107.6,-67.0L-108.1,-67.3ZM-117.1,-61.8L-114.7,-63.5L-112.2,-65.1L-111.8,-64.7L-111.3,-64.4L-110.7,-64.0L-110.2,-63.7L-109.7,-63.4L-109.4,-63.1L-109.2,-62.7L-111.6,-61.8L-113.4,-61.2L-114.0,-61.5L-114.5,-61.8L-115.6,-61.6L-116.7,-61.5ZM-131.2,-19.6L-130.5,-19.2L-131.1,-18.4L-131.4,-18.9ZM-132.8,-20.9L-132.4,-20.7L-132.7,-20.7ZM-133.9,-21.5L-133.5,-21.5L-133.7,-21.2ZM51.4,47.5L52.8,47.4L52.2,48.0ZM-45.2,49.5L-43.9,49.5L-42.7,49.5L-42.9,50.2L-44.3,50.4ZM-27.4,52.0L-25.9,52.2L-26.6,52.5ZM-50.0,50.7L-49.5,51.8L-48.9,52.8L-47.6,52.9L-47.0,52.6L-48.2,51.8L-49.4,51.1ZM-94.8,-49.1L-93.9,-48.7L-92.9,-48.3L-92.7,-46.8L-93.7,-47.0L-94.2,-47.6L-94.8,-48.3ZM-95.8,-52.2L-95.8,-51.1L-96.2,-50.4L-96.3,-51.1ZM-107.7,-55.7L-106.5,-55.5L-107.9,-54.8L-108.4,-55.0ZM35.9,-43.3L36.3,-44.1L37.3,-45.0L38.2,-45.2L39.1,-45.5L40.3,-45.2L40.8,-43.9L39.5,-43.1L38.7,-43.1L39.8,-41.8L41.2,-40.7L41.5,-39.7L42.5,-39.5L42.3,-38.3L42.7,-37.3L43.1,-36.3L42.2,-36.0L41.3,-35.7L40.0,-36.3L39.0,-37.1L38.9,-38.8L39.7,-39.1L38.9,-39.5L37.5,-40.7L36.9,-41.7L36.5,-42.6Z"/>
<path id="bord" d="M-92.1,-47.4L-91.0,-47.4L-89.9,-47.4L-88.8,-47.4L-87.7,-47.4L-86.6,-47.4L-85.5,-47.4L-84.4,-47.4L-83.3,-47.4L-82.2,-47.4L-81.1,-47.4L-80.0,-47.4L-78.9,-47.4L-77.8,-47.4L-76.7,-47.4L-75.7,-47.4L-74.6,-47.4L-73.5,-47.4L-72.4,-47.4L-71.3,-47.4L-71.1,-47.7L-70.2,-47.4L-69.3,-47.1L-68.4,-46.7L-67.4,-46.4L-66.7,-46.1L-65.9,-45.7L-65.1,-45.4L-64.3,-45.0L-63.8,-44.4L-63.2,-43.9L-63.6,-42.8L-64.0,-41.8L-64.4,-40.7L-63.4,-41.0L-62.4,-41.2L-61.4,-41.5L-61.4,-42.0L-60.2,-42.4L-59.0,-42.7L-58.2,-43.1L-57.4,-43.6L-56.5,-43.6L-55.7,-43.6L-54.9,-43.6L-53.3,-45.0L-52.3,-45.9L-51.5,-45.8L-51.7,-45.0L-51.8,-44.2L-51.4,-43.6M-87.2,-65.6L-88.6,-64.6L-89.9,-63.5L-91.2,-62.3L-92.5,-61.2L-93.7,-60.0L-95.0,-58.9L-96.2,-57.7L-95.7,-57.3L-95.1,-56.9L-94.6,-56.6L-93.7,-56.8L-92.7,-57.1L-92.6,-56.5L-92.5,-55.8L-92.4,-54.9L-92.2,-53.9L-93.2,-52.7M-95.5,-31.5L-94.5,-31.6L-93.5,-31.7L-92.6,-31.3L-91.8,-30.8L-90.9,-30.4L-89.7,-30.4L-88.6,-30.4L-88.4,-30.8L-87.8,-30.8L-87.1,-30.8L-86.6,-29.8L-86.0,-28.7L-85.0,-28.1L-84.0,-28.5L-83.1,-28.9L-82.8,-27.8L-82.4,-26.7L-81.6,-25.9L-80.9,-25.1M-78.2,-14.1L-77.9,-15.5L-77.1,-15.6L-77.3,-16.7L-76.9,-17.3L-76.1,-17.3L-75.3,-17.3L-74.5,-17.9M-75.3,-17.3L-75.4,-16.3L-75.6,-15.4L-74.7,-15.2M-75.6,-15.4L-75.9,-14.0L-76.5,-13.3M-75.9,-14.0L-75.2,-13.5L-74.6,-12.9M-75.2,-13.5L-74.2,-13.5L-73.2,-13.5L-72.2,-13.6L-71.4,-14.1L-70.6,-14.5M-73.0,-10.8L-72.2,-10.7L-71.4,-10.7M-70.9,-8.0L-70.5,-9.3M-60.7,-11.4L-61.8,-10.7L-61.8,-9.5L-61.7,-8.2L-60.7,-6.8L-59.7,-6.5L-58.7,-6.3L-57.7,-6.0L-57.9,-5.2L-58.0,-4.4L-57.8,-3.2L-57.6,-1.9L-57.3,-1.2M-57.3,-1.2L-58.4,-1.1L-59.5,-1.0L-59.6,0.3L-59.7,1.6L-59.8,2.8L-59.8,4.1M-59.8,4.1L-60.7,3.5L-61.6,3.0L-62.5,2.4L-63.5,1.3L-64.5,0.2L-65.5,-0.3L-66.5,-0.8L-67.5,-1.4M-57.6,-1.9L-56.7,-1.6L-55.8,-1.3L-54.8,-1.0L-54.8,-2.4L-54.8,-3.9L-53.5,-3.9L-52.7,-4.5L-51.9,-5.0L-51.8,-6.0L-51.8,-7.0L-51.7,-8.0M-51.9,-5.0L-51.7,-3.8L-51.5,-2.7L-51.2,-1.5L-50.1,-1.6L-49.0,-1.7L-48.0,-1.8L-47.1,-2.0L-46.2,-2.2L-45.2,-3.2L-44.2,-4.1M-48.9,-5.8L-49.2,-4.5L-49.4,-3.1L-49.7,-1.7M-46.2,-5.5L-46.2,-4.4L-46.2,-3.3L-46.2,-2.2M-68.7,3.3L-68.2,4.1L-67.6,4.8L-67.0,3.4L-65.8,2.4L-64.7,1.5L-64.5,0.2M-59.8,4.1L-60.7,5.1L-61.5,6.1L-62.4,7.1L-62.1,8.1L-61.8,9.2L-61.0,9.9L-60.1,10.7L-59.2,10.7M-59.2,10.7L-58.4,12.1L-58.6,13.6L-58.8,15.0L-58.8,16.0L-58.7,17.0L-59.4,17.7M-59.2,10.7L-58.0,10.3L-56.9,9.9L-55.7,9.5L-54.9,10.8L-54.0,12.1L-52.7,12.8L-51.4,13.4L-51.2,14.6L-51.0,15.8L-50.2,15.8L-49.4,15.8L-49.0,16.7L-48.5,17.7M-58.7,17.0L-57.7,18.4L-57.5,19.5L-57.3,20.7L-56.2,22.1M-56.2,22.1L-55.1,21.9L-54.1,21.6L-53.3,21.6L-52.5,21.5M-52.5,21.5L-52.3,20.3L-52.0,19.0L-51.0,19.1L-50.0,19.1L-49.0,19.2L-48.8,18.4L-48.5,17.7M-48.5,17.7L-48.6,18.9L-48.6,20.1L-48.6,21.3L-47.6,21.6L-46.5,21.8L-45.6,23.3L-45.5,24.1L-45.4,24.8M-52.5,21.5L-51.1,22.8L-49.8,24.0L-48.4,25.2L-47.4,25.1L-46.4,25.0L-45.4,24.8M-56.2,22.1L-56.6,23.2L-57.1,24.2L-57.3,25.7L-57.5,27.2L-57.5,28.6L-57.4,30.1L-57.1,31.5L-56.8,33.0L-56.7,34.4L-56.5,35.9L-56.5,37.3L-56.4,38.8L-56.1,40.1L-55.7,41.3L-55.4,42.6L-55.1,43.8L-54.8,45.0L-54.7,46.2L-54.6,47.4L-53.9,48.7L-53.1,50.0L-52.0,50.1L-51.0,50.3L-50.0,50.4M-45.4,24.8L-44.6,26.3L-45.4,26.7L-46.1,27.2L-46.7,28.2L-47.3,29.3L-47.3,30.4L-47.3,31.4L-47.3,32.5M-47.3,29.3L-46.4,29.7L-45.5,30.1L-44.4,31.4L-43.3,32.7M-1.4,-34.0L-1.2,-32.6L-1.1,-31.2L-2.0,-30.6L-3.0,-30.1L-4.1,-29.5L-5.1,-28.9L-6.1,-28.4L-7.2,-27.8L-7.2,-26.9L-8.4,-26.9L-9.7,-26.9L-10.9,-26.9M-7.2,-26.9L-7.2,-26.0L-7.2,-25.2L-8.1,-25.2L-9.1,-25.2L-10.0,-25.2L-10.0,-24.0L-10.0,-22.8L-10.5,-21.7L-10.9,-20.7L-12.0,-20.7L-13.2,-20.7L-14.3,-20.7M-7.2,-26.5L-6.1,-25.7L-5.1,-25.0L-4.0,-24.2L-4.7,-24.2L-5.4,-24.2L-5.3,-22.9L-5.2,-21.5L-5.0,-20.1L-4.9,-18.7L-4.8,-17.3L-4.7,-15.9L-5.8,-15.6L-6.9,-15.3L-8.1,-15.0L-9.2,-14.7L-10.3,-14.4L-11.6,-14.8L-12.8,-15.3L-14.0,-15.7M-4.0,-24.2L-2.8,-23.3L-1.5,-22.3L-0.3,-21.3L1.0,-20.4L2.3,-19.5L3.5,-18.6L4.8,-18.9L5.9,-19.7L6.9,-20.5L8.0,-21.2L9.0,-22.0L10.0,-22.8M10.0,-22.8L9.0,-24.2L7.9,-25.7L8.0,-26.8L8.1,-28.0L8.2,-29.1L7.8,-29.4L7.4,-30.7L7.0,-32.1L6.6,-33.5L6.7,-34.6L6.8,-35.8M7.8,-29.4L8.0,-30.2L8.2,-31.0L9.4,-32.1M10.0,-22.8L10.9,-22.5L11.7,-22.1L12.6,-22.3L13.8,-21.7L15.1,-21.2L16.4,-20.6L17.6,-20.0L18.9,-19.5L20.2,-18.9L20.2,-19.4L21.0,-19.4L21.0,-20.4L21.0,-21.3L20.9,-22.7L20.9,-24.0L20.8,-25.3L20.7,-26.7L20.6,-28.0L20.5,-29.3L20.5,-30.6M21.0,-21.3L22.2,-21.3L23.5,-21.3L24.7,-21.3L26.0,-21.3L27.2,-21.3L28.4,-21.3L29.7,-21.3L30.9,-21.3M3.5,-18.6L3.5,-17.3L3.6,-15.9L2.7,-15.5L1.8,-15.0L0.8,-14.5L0.3,-14.4L-0.4,-14.6L-1.7,-13.8L-2.5,-13.2L-3.7,-12.6L-4.2,-11.6L-4.7,-10.7L-5.8,-10.3L-6.8,-10.0L-7.2,-10.9L-8.4,-11.4L-9.6,-11.9L-10.0,-13.1L-10.3,-14.4M13.0,-22.3L13.0,-21.1L13.0,-19.9L13.1,-18.6L13.1,-17.3L13.1,-16.0L13.1,-14.8L13.2,-13.5L11.9,-12.7L11.6,-13.1L10.9,-12.9L10.2,-12.8L9.4,-12.8L8.5,-12.8L7.2,-12.8L6.0,-12.8L5.0,-12.3L4.0,-11.8L3.1,-11.3L2.4,-12.0L1.6,-12.5L0.8,-12.9L0.6,-13.7L0.3,-14.4M3.1,-11.3L2.7,-10.0L2.3,-8.7L2.3,-7.4L2.3,-6.1M0.8,-12.9L1.0,-11.8L1.2,-10.7L0.8,-10.7L0.9,-9.5L1.1,-8.3L1.3,-7.2L1.5,-6.0M0.8,-10.7L0.0,-10.7L-1.2,-10.7L-2.4,-10.7L-2.5,-9.2L-2.4,-7.8L-2.4,-6.3L-2.3,-4.8M-2.4,-10.7L-2.5,-11.9L-2.5,-13.2M-4.7,-10.7L-4.3,-9.9L-3.4,-9.7L-2.6,-9.5M-6.8,-10.0L-7.0,-8.6L-7.1,-7.3L-6.9,-6.3L-6.6,-5.3L-6.4,-4.3M-7.1,-7.3L-8.0,-7.1L-8.9,-6.9L-9.8,-6.7M-7.2,-10.9L-8.1,-10.0L-9.0,-9.2L-10.1,-9.0L-11.3,-8.7M-9.6,-11.9L-10.6,-12.1L-11.7,-12.2L-12.9,-12.1L-14.2,-12.0M-11.7,-12.2L-12.3,-11.4L-12.9,-10.6M-9.6,-11.9L-9.7,-10.7L-9.8,-9.5L-9.8,-8.2L-8.7,-8.1L-8.8,-7.4L-9.0,-6.6L-9.8,-6.7M20.2,-18.9L20.1,-17.7L20.0,-16.5L19.9,-15.2L19.5,-14.3L19.1,-13.4L18.7,-12.1L19.2,-10.7L19.5,-10.6M11.6,-13.1L12.3,-11.6L12.1,-10.7L11.9,-9.7L11.1,-8.2L10.6,-7.3L10.2,-6.3L9.3,-6.1L8.4,-5.8L7.4,-4.5M11.9,-9.7L13.2,-8.7L13.2,-7.3L14.5,-7.9L15.8,-8.5L17.0,-9.2L18.3,-9.9L19.5,-10.6L19.9,-9.5L20.3,-8.4L20.9,-8.0L21.8,-7.0L22.7,-5.9L23.5,-4.8L22.5,-4.8L21.4,-4.8L20.3,-4.5L19.3,-4.1L18.3,-3.9L17.3,-3.7L16.3,-3.5L15.8,-2.7L14.8,-2.4L13.7,-2.1L13.3,-2.9L12.8,-3.7L12.4,-4.8L12.8,-6.1L13.2,-7.3M13.7,-2.1L12.5,-2.1L11.3,-2.1L10.5,-2.1L9.7,-2.1L8.4,-2.2M9.7,-2.1L9.7,-1.0L8.4,-1.0M11.3,-2.1L11.7,-1.1L12.1,-0.1L12.4,1.0L11.1,2.4L10.4,3.1L9.6,3.7M13.7,-2.1L14.2,-1.1L14.7,-0.1L15.2,1.0L14.7,2.2L14.1,3.4L13.3,4.7L12.3,5.1L11.4,5.5L10.5,5.9M10.4,5.6L10.4,4.4L11.1,4.4M23.5,-4.8L24.5,-4.4L25.5,-4.0L26.5,-3.6L27.6,-3.6L28.7,-3.7L29.7,-4.3L30.7,-4.8L29.9,-5.8L29.5,-7.1L29.0,-8.3L28.1,-9.7L28.3,-10.7L28.5,-11.6L29.2,-10.2M19.5,-10.6L20.2,-9.3L20.9,-8.0L22.0,-8.7L23.0,-9.3L24.3,-9.5L25.6,-9.7L26.9,-9.7L28.1,-9.7M21.0,-21.3L20.6,-20.1L20.2,-18.9M30.9,-21.3L31.5,-20.0L32.0,-18.7L32.6,-17.5L32.1,-16.3L31.5,-15.2L31.0,-14.1L30.8,-13.2L30.6,-12.3L29.9,-11.2L29.2,-10.2M32.6,-17.5L33.3,-16.0L33.9,-14.5L35.0,-13.4L36.2,-12.2M31.0,-14.1L31.8,-13.9L32.9,-14.0L33.9,-14.1L34.7,-13.6L35.4,-13.1L36.7,-12.3M36.4,-11.2L35.8,-10.7L36.7,-9.2L37.6,-8.7L38.7,-8.4L39.8,-8.1L40.9,-7.8L39.7,-6.3L38.5,-4.8L37.2,-4.4L35.9,-3.9L35.1,-3.9L33.8,-3.4L32.5,-3.5L31.6,-4.2L30.7,-4.8M35.1,-3.9L35.1,-2.5L35.1,-1.2L35.1,0.2L35.1,1.6M30.7,-4.8L29.5,-3.9L29.3,-2.7L29.1,-1.5L29.1,-0.2L29.1,1.0L30.1,1.6L31.1,2.3L32.1,2.9L32.8,3.7L33.5,4.6M26.5,-3.6L26.1,-2.5L25.7,-1.5L25.5,-0.2L25.4,1.0L26.3,1.0L27.2,1.0L28.2,1.0L29.1,1.0M25.4,1.0L25.1,1.8L24.8,2.7L25.0,3.5L25.2,4.4L25.2,5.8L25.6,6.9L26.0,8.0L27.1,8.5L28.1,9.1L28.5,10.1L29.0,11.2L30.2,11.2L31.3,10.9L32.4,10.7L33.4,10.4L34.5,10.2M26.3,1.0L26.1,2.4L26.4,3.4L25.2,4.4M28.1,9.1L28.4,10.5L28.2,11.8L28.0,13.1L27.9,13.6L26.9,14.3L25.8,15.0L24.8,15.5L23.7,16.0L22.5,16.6L21.4,17.3L20.6,17.2L19.8,17.1L18.6,15.8L18.7,14.7L18.7,13.7L18.7,12.6L19.6,12.6L20.4,12.6L20.4,11.6L20.4,10.6L19.6,10.6L18.7,10.7L18.8,9.2L18.8,7.8L17.6,7.8L16.3,7.8L15.1,7.8L14.1,6.7L12.9,6.4L11.7,6.1L10.4,5.8M20.4,10.6L21.6,11.1L22.7,11.6L23.8,12.1L24.6,12.6L25.3,13.0L25.1,11.6L24.9,10.2L24.7,8.7L24.3,7.8L25.2,7.9L26.0,8.0M28.0,13.1L28.9,13.6L29.7,14.1L29.7,15.0L29.6,16.0L29.2,16.5L29.6,15.0L30.0,13.6L30.1,12.4L30.2,11.2M25.8,15.0L26.8,15.6L27.7,16.2L27.8,17.6L27.8,18.9L27.0,20.3L26.2,21.7L25.4,21.6L24.6,21.5L23.7,20.7L22.7,19.9L22.0,18.6L21.4,17.3M26.2,21.7L26.5,23.0L26.7,24.2L27.0,25.1L27.2,26.0M24.6,21.5L23.6,22.4L22.6,23.3L21.7,24.1L20.8,25.0L20.0,24.8L19.2,24.5L17.9,24.3L16.7,24.1L16.7,22.7L16.8,21.3L17.1,20.0L17.4,18.7L17.7,17.5L18.7,17.3L19.8,17.1M10.0,16.8L10.9,16.8L11.8,16.9L13.1,16.9L14.4,16.9L15.6,17.0L16.7,17.2L17.7,17.5M16.7,24.1L16.6,25.2L16.6,26.4L16.5,27.5L15.6,27.6L14.6,27.7L13.6,27.7M22.2,28.6L23.2,28.7L24.1,28.7L23.4,29.7L22.6,29.4L22.2,28.6M28.7,-28.6L29.7,-28.3L30.4,-29.4L31.2,-29.6L31.6,-30.4L32.0,-31.2L31.5,-32.4L32.4,-32.9L33.2,-33.4L33.5,-34.7L33.9,-36.0M28.9,-32.1L29.3,-31.7L30.0,-32.0L30.7,-32.2L31.5,-32.4M29.3,-31.7L29.2,-30.9L29.1,-30.1L28.8,-28.6M28.9,-35.7L29.7,-35.5L30.9,-35.6L32.1,-35.7L33.0,-35.8L33.9,-36.0L34.9,-36.0L35.8,-36.1L35.2,-37.3L35.4,-38.5L34.1,-39.8L33.4,-40.0L32.6,-40.2M32.0,-31.2L33.2,-30.6L34.4,-30.1L35.6,-29.2L36.9,-28.3L37.6,-28.3L38.3,-28.2L39.4,-27.6L40.0,-27.6M35.8,-36.1L36.3,-35.2L36.7,-34.4L37.1,-33.2L37.4,-32.0L38.3,-31.0L39.2,-30.1L39.5,-29.1M30.1,-28.6L31.3,-28.1L30.9,-26.7L30.4,-25.2M46.5,-22.1L45.3,-22.7L44.2,-23.2L43.1,-23.8M46.1,-21.8L46.5,-22.1L46.7,-23.1L47.0,-24.1M43.8,-18.4L44.6,-19.6L45.3,-20.7L46.1,-21.8L46.5,-22.1M36.2,-16.0L37.2,-16.3L38.3,-16.5L39.3,-16.8L40.2,-16.5L41.3,-17.9L42.6,-18.2L43.8,-18.4L44.3,-17.3L44.8,-16.2M35.4,-38.5L36.2,-38.1L36.9,-37.7L38.2,-37.3L38.9,-37.2M32.6,-40.2L33.3,-40.2L34.1,-40.2L35.3,-40.0L36.5,-39.7L37.2,-40.1L37.9,-40.5M34.1,-39.8L34.9,-40.1L35.7,-40.3L36.5,-40.5L37.6,-40.2M38.2,-37.2L39.4,-37.0L40.6,-36.7L41.9,-36.5L43.1,-36.3L43.9,-36.5L44.6,-36.8L45.4,-37.0L46.7,-36.5L48.0,-35.9L49.1,-35.5L49.3,-34.7L49.4,-33.9L49.1,-32.6L49.5,-31.6L49.8,-30.5L50.5,-30.4L50.8,-29.5L51.1,-28.6L51.9,-28.5L53.0,-27.3L54.2,-26.0L55.3,-24.7M49.1,-35.5L50.5,-34.2L51.2,-34.7L51.8,-35.2L52.5,-36.2L53.4,-36.1L54.2,-36.1L55.1,-36.2L55.9,-36.4L57.3,-35.9L58.1,-36.0L59.0,-36.1L59.9,-36.3M50.5,-30.4L51.8,-29.9L53.2,-29.4L54.5,-28.9L54.5,-30.1L55.3,-30.5L56.0,-30.8L57.0,-32.0L56.4,-33.0L57.4,-33.6L57.6,-34.9L58.4,-35.4L59.1,-35.8L59.9,-36.3M57.3,-22.8L58.1,-23.2L58.8,-23.7L59.2,-23.9L58.3,-24.9L58.3,-26.0L58.3,-27.2L59.2,-27.8L60.0,-28.4L60.9,-29.1L61.0,-30.5L61.2,-31.5L60.0,-33.0L60.9,-33.5L61.8,-33.9L62.7,-34.4M62.7,-34.4L64.0,-33.3L64.0,-32.4L64.0,-31.6L64.5,-30.5L65.3,-29.8L66.2,-29.1L66.6,-29.3L68.0,-28.5L69.4,-27.7L70.5,-27.5L71.7,-27.3L72.8,-27.1L73.3,-25.7L72.9,-27.1L73.8,-26.5L75.0,-26.7L76.2,-27.0L77.0,-26.8L77.9,-26.7L79.0,-27.1L80.2,-27.4M66.2,-29.1L66.0,-27.9L67.0,-27.3L68.0,-26.6L69.3,-26.2L70.6,-25.8L71.8,-25.7L73.1,-25.6L73.3,-25.7M73.8,-26.5L74.6,-25.9L75.5,-25.9L76.4,-26.0L76.2,-27.0M73.3,-25.7L74.1,-24.7L73.9,-23.3L74.3,-22.3L74.6,-21.3M76.4,-26.0L76.6,-25.1L76.9,-24.2L77.3,-23.3L76.8,-22.3L77.2,-21.5L77.5,-20.7M80.2,-27.4L80.6,-27.1L79.6,-26.4L79.1,-25.8L78.7,-24.4L77.9,-23.4L77.9,-22.6L77.9,-21.8L77.5,-20.7M80.2,-27.4L81.0,-27.1L81.8,-26.7L81.8,-25.7L81.8,-24.7L81.6,-23.6L82.5,-22.5L83.4,-21.5L84.2,-20.9L84.9,-20.8L85.5,-21.7L86.7,-22.1L87.8,-22.5L88.6,-22.3L89.3,-22.1L90.6,-20.9M84.2,-20.9L84.5,-19.7L83.5,-19.4L82.5,-19.2L82.4,-18.3L82.3,-17.5L83.4,-16.0L83.5,-14.5L83.9,-13.6L84.3,-12.6L84.6,-11.6L84.8,-10.7L84.1,-9.9M84.5,-19.7L85.2,-18.9L85.2,-17.9L85.2,-17.0L85.9,-17.2L86.5,-17.4L87.5,-17.2L88.5,-17.0L89.0,-15.9L89.4,-14.7L89.7,-13.6L88.5,-13.7L87.4,-13.8L87.3,-12.9L87.2,-12.1L87.6,-11.2M85.5,-21.7L85.8,-20.4L86.5,-20.2L87.7,-19.2L87.8,-18.2L89.1,-17.5L90.5,-16.0L91.1,-14.7L91.1,-13.6L90.4,-13.6L89.7,-13.6M91.1,-13.6L90.9,-12.4L90.7,-11.2L89.5,-10.5L89.1,-10.2M85.7,-6.3L86.6,-5.6L87.2,-6.0M59.9,-36.3L58.5,-37.3L58.7,-38.2L58.9,-39.2L59.5,-39.2L60.2,-39.3L61.2,-40.0L61.9,-40.4L62.6,-40.7L62.3,-42.0L61.9,-43.4L62.6,-43.6L63.2,-43.9L63.1,-44.8L62.9,-45.7L63.9,-45.6L64.8,-45.5L64.6,-46.4L64.4,-47.4L65.3,-47.5M65.3,-47.5L66.1,-47.9L66.9,-48.3L67.5,-48.6L68.1,-48.9L69.0,-48.6L69.9,-48.3L70.8,-48.2L71.7,-48.2L72.6,-48.1L72.2,-49.1L71.8,-50.2L72.6,-50.0L73.4,-49.9L74.6,-49.3L75.8,-48.7L76.5,-48.5L77.4,-48.6L78.4,-48.7L79.5,-48.4L80.8,-47.6L81.8,-47.5L82.8,-47.5L83.5,-47.8L84.2,-48.1L84.9,-48.5L85.9,-48.3L86.9,-48.1M65.3,-47.5L66.1,-46.9L67.7,-45.9L69.2,-45.0L69.6,-43.9L70.7,-43.7L71.8,-43.5L73.3,-42.4L74.7,-41.4L75.6,-41.3L76.6,-41.3L77.5,-41.3L78.5,-41.3L79.7,-41.0L81.0,-40.6L82.2,-40.3L83.0,-40.7L83.8,-41.1L84.8,-41.3L85.9,-41.5L86.5,-42.3L85.7,-43.6L86.7,-43.7L87.7,-43.9L87.9,-44.5L88.1,-45.2L89.1,-45.2L90.0,-45.2L91.0,-45.2L89.9,-45.8L88.9,-46.4L87.9,-47.3L86.9,-48.1M86.9,-48.1L87.9,-47.8L88.2,-48.3L88.5,-48.8L88.2,-49.8L87.9,-50.7L88.7,-51.1L89.4,-51.6L90.6,-51.2L91.8,-50.9L93.3,-49.6L94.8,-48.3L96.3,-47.8L97.8,-47.3L98.9,-47.1L100.1,-46.9L101.3,-46.7L101.6,-45.7L101.9,-44.6L102.1,-43.6L101.4,-43.5L100.6,-43.5L101.3,-42.6L102.0,-41.7L101.9,-41.0M101.9,-41.0L101.1,-41.1L100.5,-40.9L100.0,-40.7L99.5,-40.2L99.0,-39.7L98.6,-39.2L98.2,-38.7M100.7,-36.6L101.5,-37.1L102.1,-37.4M65.3,-47.5L64.2,-47.9L63.2,-48.3L62.2,-48.8L61.3,-49.2L60.2,-49.2L59.1,-49.2L57.7,-50.4L56.3,-51.6L55.6,-51.8L54.8,-52.0L54.0,-51.8L53.2,-51.6L51.7,-52.4L50.3,-53.2L49.8,-52.8L49.2,-52.5L48.1,-52.5L47.0,-52.6L46.0,-52.4L45.0,-52.2L44.0,-52.0L44.3,-51.1L44.7,-50.2L44.0,-50.1L43.2,-49.6L42.3,-49.1L41.7,-49.0L41.1,-48.8L40.2,-49.2L39.3,-49.7L38.2,-49.7L37.1,-49.7L36.6,-49.3L36.1,-48.9L35.2,-48.8L35.1,-47.5L34.9,-46.9L35.9,-46.0L37.3,-45.0M62.6,-40.7L61.8,-41.1L61.0,-41.5L60.2,-41.4L59.3,-41.3L58.4,-41.2L57.4,-41.9L56.3,-41.6L55.3,-41.2L54.8,-40.2L56.0,-39.0L57.1,-38.6L58.2,-38.3L58.5,-37.3M56.0,-39.0L55.2,-39.0L54.4,-39.0L54.2,-38.3L53.4,-38.3L53.8,-37.2L54.2,-36.1M54.8,-40.2L54.1,-40.1L53.5,-39.5L52.0,-40.6L51.3,-41.7L49.9,-42.2L49.0,-42.2L48.0,-42.1L46.9,-42.8L45.9,-43.4L44.8,-44.0L43.9,-43.8L43.0,-43.6L43.3,-42.4L43.6,-41.2L43.9,-40.0L44.7,-40.7L45.6,-41.5L46.8,-40.9L47.9,-39.9L49.4,-38.7L50.2,-38.2L51.0,-37.7L51.7,-36.9L52.5,-36.2M43.0,-43.6L41.8,-43.7L40.6,-43.9M43.8,-40.0L43.1,-39.8L42.5,-39.5M18.5,-65.7L17.9,-64.7L19.0,-63.9L18.7,-62.7L19.6,-61.4L20.3,-60.1L21.0,-59.8L20.4,-59.2L19.7,-58.6L19.0,-58.0L18.9,-57.9M17.8,-65.2L17.0,-65.5L16.3,-65.9L15.9,-65.1L15.4,-65.0L14.8,-64.9L14.1,-65.0L13.5,-65.1L12.8,-65.2L13.7,-64.3L14.6,-63.4L15.5,-62.5M12.8,-65.2L12.1,-64.9L11.3,-64.6L10.8,-63.5L10.3,-62.7L9.4,-61.8L8.8,-61.4L8.0,-60.1L8.1,-59.2L8.3,-58.3L8.6,-57.5L7.9,-56.6L7.8,-56.5M19.1,-57.0L19.2,-55.7L19.5,-54.9L19.8,-54.0L20.6,-53.9L21.3,-53.7L21.8,-52.8L22.4,-52.0L23.0,-50.6L22.1,-49.7L21.1,-49.8L20.2,-49.8L19.4,-49.8L18.5,-49.8L17.6,-49.8L17.3,-50.9L17.0,-51.9L16.5,-52.3L15.4,-53.1L14.9,-53.9M19.2,-55.7L18.5,-55.6L17.8,-55.5L17.0,-55.5M19.8,-54.0L18.9,-53.5L18.4,-52.2L17.7,-52.1L17.0,-51.9M15.4,-53.1L16.4,-52.4L15.3,-52.4L14.2,-52.4M23.0,-50.6L23.7,-50.5L24.5,-50.4L25.8,-49.4L27.0,-48.9L28.3,-48.3L29.0,-48.1L29.8,-47.9L30.0,-47.2L30.1,-46.4L30.0,-46.2L29.0,-45.5M17.6,-49.8L17.8,-48.8L16.9,-47.5L16.6,-46.8L17.7,-46.5L18.7,-46.1L19.4,-46.4L20.0,-46.7L20.6,-46.7L21.2,-46.6L21.9,-45.9L22.8,-44.9L22.2,-44.5L21.6,-44.0L21.4,-44.0M20.0,-46.7L20.9,-45.5L21.6,-44.0M16.6,-46.8L16.3,-45.8L16.0,-44.7L16.8,-43.9L17.6,-43.1L17.4,-42.8L18.5,-42.6L19.7,-42.3L20.5,-42.5L21.2,-42.6L22.1,-42.4M17.6,-43.1L17.5,-42.0L17.5,-41.0L18.0,-40.0L19.2,-40.2L20.3,-40.4L21.1,-40.7L21.9,-40.7M20.3,-40.4L20.7,-39.7M17.5,-41.0L16.8,-40.8L16.1,-40.6L16.2,-39.6L16.5,-39.3M16.1,-39.7L15.8,-38.5M16.0,-44.7L15.3,-44.6L14.5,-44.4L15.0,-43.1L14.7,-42.6L15.1,-41.7L16.0,-41.2L16.1,-40.6M14.5,-44.4L13.8,-44.3L12.6,-45.0L11.9,-44.0L11.5,-44.0L10.4,-44.0M14.7,-42.6L13.4,-43.7L12.3,-43.8L12.1,-42.9L12.8,-42.1L13.7,-41.6M14.7,-41.9L14.4,-41.2M16.9,-47.5L16.3,-47.6L15.7,-47.7L14.9,-47.7L14.2,-47.7L14.0,-47.8L13.4,-47.3L12.8,-46.8M16.6,-46.8L16.0,-46.8L15.4,-46.9L14.8,-46.6L14.2,-46.2L13.5,-46.3L12.9,-46.4L12.5,-45.9L12.2,-45.2M14.0,-47.8L13.1,-47.2L12.7,-47.0L12.0,-47.2L11.2,-47.4L10.5,-47.2L9.8,-47.0L9.4,-47.8L9.0,-48.6L9.8,-48.9L10.6,-49.2L11.1,-49.2L12.2,-48.6L13.1,-48.2L14.0,-47.8M10.6,-49.2L10.8,-50.4L10.5,-51.1L10.2,-51.9M9.8,-47.0L9.8,-45.9L8.9,-45.9L7.9,-45.9L7.2,-45.9M12.5,-45.9L12.2,-45.2L11.3,-45.1L10.4,-45.0L9.4,-45.6L8.7,-45.4L8.0,-45.3L7.2,-45.6L7.2,-45.9M10.4,-45.0L10.4,-44.1M8.0,-45.3L6.9,-44.3L6.1,-44.4L5.3,-44.4L5.3,-43.6L5.2,-42.7L5.8,-42.4M7.2,-45.9L6.5,-46.0L5.7,-46.0L5.2,-45.5L4.6,-44.9L5.3,-44.4M5.7,-46.0L6.1,-47.4L5.5,-47.6L4.8,-47.8M4.8,-47.8L4.5,-48.4L4.4,-49.0L4.6,-49.9L5.1,-50.5L5.2,-51.4M4.5,-48.4L3.6,-48.3L3.1,-48.2L2.5,-48.8L1.8,-49.3M4.4,-49.0L4.1,-49.4L3.2,-49.6L2.5,-49.5M6.2,-52.8L7.1,-52.8M-1.4,-42.0L-0.7,-41.7L0.0,-41.4L1.2,-41.2L1.8,-41.1L2.5,-41.1M-7.0,-40.7L-6.4,-40.7L-5.8,-40.7L-5.2,-40.6L-5.4,-39.7L-5.5,-38.8L-5.6,-37.8L-5.8,-36.9L-6.0,-36.1M-5.2,-52.9L-4.3,-52.0M-2.1,-53.8L-1.4,-53.7M28.0,-43.9L28.4,-44.7L28.8,-45.5L29.4,-45.9L30.0,-46.2M31.0,-42.0L31.8,-41.9L32.6,-41.8L33.4,-41.6L34.2,-41.4L35.1,-40.8L36.0,-40.2L36.5,-40.5M28.7,-28.6L28.4,-29.5L28.0,-30.4M20.5,-30.6L20.5,-29.6L20.6,-28.6M8.4,-1.0L8.1,-2.1M16.3,-3.5L15.9,-4.3M15.2,1.0L15.4,-0.3L15.6,-1.5L15.8,-2.7M29.7,14.1L28.9,13.6L28.0,13.1M26.6,26.0L26.0,25.0L26.7,24.2M100.6,-4.1L99.7,-4.0L98.8,-3.9L98.5,-2.7L98.1,-1.5L97.0,-1.5L95.9,-1.5L94.9,-1.6L93.9,-1.7M120.7,2.5L120.7,3.8L120.6,5.0L120.5,6.3L120.4,7.6L120.3,8.8M105.8,8.9L106.8,9.1"/>
<path id="grat" d="M-123.1,57.5L-119.7,57.5L-116.3,57.5L-112.9,57.5L-109.5,57.5L-106.0,57.5L-102.6,57.5L-99.2,57.5L-95.8,57.5L-92.4,57.5L-88.9,57.5L-85.5,57.5L-82.1,57.5L-78.7,57.5L-75.3,57.5L-71.8,57.5L-68.4,57.5L-65.0,57.5L-61.6,57.5L-58.2,57.5L-54.7,57.5L-51.3,57.5L-47.9,57.5L-44.5,57.5L-41.0,57.5L-37.6,57.5L-34.2,57.5L-30.8,57.5L-27.4,57.5L-23.9,57.5L-20.5,57.5L-17.1,57.5L-13.7,57.5L-10.3,57.5L-6.8,57.5L-3.4,57.5L0.0,57.5L3.4,57.5L6.8,57.5L10.3,57.5L13.7,57.5L17.1,57.5L20.5,57.5L23.9,57.5L27.4,57.5L30.8,57.5L34.2,57.5L37.6,57.5L41.0,57.5L44.5,57.5L47.9,57.5L51.3,57.5L54.7,57.5L58.2,57.5L61.6,57.5L65.0,57.5L68.4,57.5L71.8,57.5L75.3,57.5L78.7,57.5L82.1,57.5L85.5,57.5L88.9,57.5L92.4,57.5L95.8,57.5L99.2,57.5L102.6,57.5L106.0,57.5L109.5,57.5L112.9,57.5L116.3,57.5L119.7,57.5L123.1,57.5M-148.0,29.1L-143.9,29.1L-139.8,29.1L-135.7,29.1L-131.6,29.1L-127.5,29.1L-123.4,29.1L-119.2,29.1L-115.1,29.1L-111.0,29.1L-106.9,29.1L-102.8,29.1L-98.7,29.1L-94.6,29.1L-90.5,29.1L-86.4,29.1L-82.2,29.1L-78.1,29.1L-74.0,29.1L-69.9,29.1L-65.8,29.1L-61.7,29.1L-57.6,29.1L-53.5,29.1L-49.3,29.1L-45.2,29.1L-41.1,29.1L-37.0,29.1L-32.9,29.1L-28.8,29.1L-24.7,29.1L-20.6,29.1L-16.4,29.1L-12.3,29.1L-8.2,29.1L-4.1,29.1L0.0,29.1L4.1,29.1L8.2,29.1L12.3,29.1L16.4,29.1L20.6,29.1L24.7,29.1L28.8,29.1L32.9,29.1L37.0,29.1L41.1,29.1L45.2,29.1L49.3,29.1L53.5,29.1L57.6,29.1L61.7,29.1L65.8,29.1L69.9,29.1L74.0,29.1L78.1,29.1L82.2,29.1L86.4,29.1L90.5,29.1L94.6,29.1L98.7,29.1L102.8,29.1L106.9,29.1L111.0,29.1L115.1,29.1L119.2,29.1L123.4,29.1L127.5,29.1L131.6,29.1L135.7,29.1L139.8,29.1L143.9,29.1L148.0,29.1M-154.2,0.0L-149.9,0.0L-145.6,0.0L-141.3,0.0L-137.1,0.0L-132.8,0.0L-128.5,0.0L-124.2,0.0L-119.9,0.0L-115.6,0.0L-111.4,0.0L-107.1,0.0L-102.8,0.0L-98.5,0.0L-94.2,0.0L-90.0,0.0L-85.7,0.0L-81.4,0.0L-77.1,0.0L-72.8,0.0L-68.5,0.0L-64.2,0.0L-60.0,0.0L-55.7,0.0L-51.4,0.0L-47.1,0.0L-42.8,0.0L-38.5,0.0L-34.3,0.0L-30.0,0.0L-25.7,0.0L-21.4,0.0L-17.1,0.0L-12.8,0.0L-8.6,0.0L-4.3,0.0L0.0,0.0L4.3,0.0L8.6,0.0L12.8,0.0L17.1,0.0L21.4,0.0L25.7,0.0L30.0,0.0L34.3,0.0L38.5,0.0L42.8,0.0L47.1,0.0L51.4,0.0L55.7,0.0L60.0,0.0L64.2,0.0L68.5,0.0L72.8,0.0L77.1,0.0L81.4,0.0L85.7,0.0L90.0,0.0L94.2,0.0L98.5,0.0L102.8,0.0L107.1,0.0L111.4,0.0L115.6,0.0L119.9,0.0L124.2,0.0L128.5,0.0L132.8,0.0L137.1,0.0L141.3,0.0L145.6,0.0L149.9,0.0L154.2,0.0M-148.0,-29.1L-143.9,-29.1L-139.8,-29.1L-135.7,-29.1L-131.6,-29.1L-127.5,-29.1L-123.4,-29.1L-119.2,-29.1L-115.1,-29.1L-111.0,-29.1L-106.9,-29.1L-102.8,-29.1L-98.7,-29.1L-94.6,-29.1L-90.5,-29.1L-86.4,-29.1L-82.2,-29.1L-78.1,-29.1L-74.0,-29.1L-69.9,-29.1L-65.8,-29.1L-61.7,-29.1L-57.6,-29.1L-53.5,-29.1L-49.3,-29.1L-45.2,-29.1L-41.1,-29.1L-37.0,-29.1L-32.9,-29.1L-28.8,-29.1L-24.7,-29.1L-20.6,-29.1L-16.4,-29.1L-12.3,-29.1L-8.2,-29.1L-4.1,-29.1L0.0,-29.1L4.1,-29.1L8.2,-29.1L12.3,-29.1L16.4,-29.1L20.6,-29.1L24.7,-29.1L28.8,-29.1L32.9,-29.1L37.0,-29.1L41.1,-29.1L45.2,-29.1L49.3,-29.1L53.5,-29.1L57.6,-29.1L61.7,-29.1L65.8,-29.1L69.9,-29.1L74.0,-29.1L78.1,-29.1L82.2,-29.1L86.4,-29.1L90.5,-29.1L94.6,-29.1L98.7,-29.1L102.8,-29.1L106.9,-29.1L111.0,-29.1L115.1,-29.1L119.2,-29.1L123.4,-29.1L127.5,-29.1L131.6,-29.1L135.7,-29.1L139.8,-29.1L143.9,-29.1L148.0,-29.1M-123.1,-57.5L-119.7,-57.5L-116.3,-57.5L-112.9,-57.5L-109.5,-57.5L-106.0,-57.5L-102.6,-57.5L-99.2,-57.5L-95.8,-57.5L-92.4,-57.5L-88.9,-57.5L-85.5,-57.5L-82.1,-57.5L-78.7,-57.5L-75.3,-57.5L-71.8,-57.5L-68.4,-57.5L-65.0,-57.5L-61.6,-57.5L-58.2,-57.5L-54.7,-57.5L-51.3,-57.5L-47.9,-57.5L-44.5,-57.5L-41.0,-57.5L-37.6,-57.5L-34.2,-57.5L-30.8,-57.5L-27.4,-57.5L-23.9,-57.5L-20.5,-57.5L-17.1,-57.5L-13.7,-57.5L-10.3,-57.5L-6.8,-57.5L-3.4,-57.5L0.0,-57.5L3.4,-57.5L6.8,-57.5L10.3,-57.5L13.7,-57.5L17.1,-57.5L20.5,-57.5L23.9,-57.5L27.4,-57.5L30.8,-57.5L34.2,-57.5L37.6,-57.5L41.0,-57.5L44.5,-57.5L47.9,-57.5L51.3,-57.5L54.7,-57.5L58.2,-57.5L61.6,-57.5L65.0,-57.5L68.4,-57.5L71.8,-57.5L75.3,-57.5L78.7,-57.5L82.1,-57.5L85.5,-57.5L88.9,-57.5L92.4,-57.5L95.8,-57.5L99.2,-57.5L102.6,-57.5L106.0,-57.5L109.5,-57.5L112.9,-57.5L116.3,-57.5L119.7,-57.5L123.1,-57.5M-61.5,78.2L-66.2,76.3L-71.9,73.5L-77.9,69.9L-83.1,66.0L-87.9,61.8L-92.4,57.5L-96.6,52.9L-100.4,48.3L-103.6,43.6L-106.6,38.8L-109.0,33.9L-111.0,29.1L-112.5,24.2L-113.6,19.4L-114.5,14.5L-115.1,9.7L-115.5,4.8L-115.6,0.0L-115.5,-4.8L-115.1,-9.7L-114.5,-14.5L-113.6,-19.4L-112.5,-24.2L-111.0,-29.1L-109.0,-33.9L-106.6,-38.8L-103.6,-43.6L-100.4,-48.3L-96.6,-52.9L-92.4,-57.5L-87.9,-61.8L-83.1,-66.0L-77.9,-69.9L-71.9,-73.5L-66.2,-76.3L-61.5,-78.2M-41.0,78.2L-44.1,76.3L-47.9,73.5L-51.9,69.9L-55.4,66.0L-58.6,61.8L-61.6,57.5L-64.4,52.9L-66.9,48.3L-69.1,43.6L-71.1,38.8L-72.7,33.9L-74.0,29.1L-75.0,24.2L-75.7,19.4L-76.3,14.5L-76.7,9.7L-77.0,4.8L-77.1,0.0L-77.0,-4.8L-76.7,-9.7L-76.3,-14.5L-75.7,-19.4L-75.0,-24.2L-74.0,-29.1L-72.7,-33.9L-71.1,-38.8L-69.1,-43.6L-66.9,-48.3L-64.4,-52.9L-61.6,-57.5L-58.6,-61.8L-55.4,-66.0L-51.9,-69.9L-47.9,-73.5L-44.1,-76.3L-41.0,-78.2M-20.5,78.2L-22.1,76.3L-24.0,73.5L-26.0,69.9L-27.7,66.0L-29.3,61.8L-30.8,57.5L-32.2,52.9L-33.5,48.3L-34.5,43.6L-35.5,38.8L-36.3,33.9L-37.0,29.1L-37.5,24.2L-37.9,19.4L-38.2,14.5L-38.4,9.7L-38.5,4.8L-38.5,0.0L-38.5,-4.8L-38.4,-9.7L-38.2,-14.5L-37.9,-19.4L-37.5,-24.2L-37.0,-29.1L-36.3,-33.9L-35.5,-38.8L-34.5,-43.6L-33.5,-48.3L-32.2,-52.9L-30.8,-57.5L-29.3,-61.8L-27.7,-66.0L-26.0,-69.9L-24.0,-73.5L-22.1,-76.3L-20.5,-78.2M0.0,78.2L0.0,76.3L0.0,73.5L0.0,69.9L0.0,66.0L0.0,61.8L0.0,57.5L0.0,52.9L0.0,48.3L0.0,43.6L0.0,38.8L0.0,33.9L0.0,29.1L0.0,24.2L0.0,19.4L0.0,14.5L0.0,9.7L0.0,4.8L0.0,0.0L0.0,-4.8L0.0,-9.7L0.0,-14.5L0.0,-19.4L0.0,-24.2L0.0,-29.1L0.0,-33.9L0.0,-38.8L0.0,-43.6L0.0,-48.3L0.0,-52.9L0.0,-57.5L0.0,-61.8L0.0,-66.0L0.0,-69.9L0.0,-73.5L0.0,-76.3L0.0,-78.2M20.5,78.2L22.1,76.3L24.0,73.5L26.0,69.9L27.7,66.0L29.3,61.8L30.8,57.5L32.2,52.9L33.5,48.3L34.5,43.6L35.5,38.8L36.3,33.9L37.0,29.1L37.5,24.2L37.9,19.4L38.2,14.5L38.4,9.7L38.5,4.8L38.5,0.0L38.5,-4.8L38.4,-9.7L38.2,-14.5L37.9,-19.4L37.5,-24.2L37.0,-29.1L36.3,-33.9L35.5,-38.8L34.5,-43.6L33.5,-48.3L32.2,-52.9L30.8,-57.5L29.3,-61.8L27.7,-66.0L26.0,-69.9L24.0,-73.5L22.1,-76.3L20.5,-78.2M41.0,78.2L44.1,76.3L47.9,73.5L51.9,69.9L55.4,66.0L58.6,61.8L61.6,57.5L64.4,52.9L66.9,48.3L69.1,43.6L71.1,38.8L72.7,33.9L74.0,29.1L75.0,24.2L75.7,19.4L76.3,14.5L76.7,9.7L77.0,4.8L77.1,0.0L77.0,-4.8L76.7,-9.7L76.3,-14.5L75.7,-19.4L75.0,-24.2L74.0,-29.1L72.7,-33.9L71.1,-38.8L69.1,-43.6L66.9,-48.3L64.4,-52.9L61.6,-57.5L58.6,-61.8L55.4,-66.0L51.9,-69.9L47.9,-73.5L44.1,-76.3L41.0,-78.2M61.5,78.2L66.2,76.3L71.9,73.5L77.9,69.9L83.1,66.0L87.9,61.8L92.4,57.5L96.6,52.9L100.4,48.3L103.6,43.6L106.6,38.8L109.0,33.9L111.0,29.1L112.5,24.2L113.6,19.4L114.5,14.5L115.1,9.7L115.5,4.8L115.6,0.0L115.5,-4.8L115.1,-9.7L114.5,-14.5L113.6,-19.4L112.5,-24.2L111.0,-29.1L109.0,-33.9L106.6,-38.8L103.6,-43.6L100.4,-48.3L96.6,-52.9L92.4,-57.5L87.9,-61.8L83.1,-66.0L77.9,-69.9L71.9,-73.5L66.2,-76.3L61.5,-78.2"/>
<path id="ant" d="M-98.7,71.9L-97.3,72.0L-96.1,71.8L-94.4,72.0L-93.3,71.6L-92.1,71.3L-90.8,71.4L-89.1,71.4L-88.2,71.1L-86.6,70.8L-85.5,70.7L-84.2,70.5L-83.4,70.1L-82.1,69.7L-80.9,69.6L-79.6,69.2L-78.2,68.8L-76.7,69.0L-75.4,68.5L-73.8,68.5L-72.4,68.8L-70.6,68.6L-69.1,68.7L-67.9,68.5L-66.8,68.1L-65.4,68.3L-64.3,68.0L-63.1,68.0L-62.0,67.8L-60.6,67.8L-59.4,68.1L-58.1,67.6L-57.1,67.8L-55.9,67.6L-54.5,67.5L-53.3,67.8L-52.1,67.6L-50.7,67.7L-49.5,67.5L-48.5,67.4L-47.3,67.2L-46.0,67.0L-43.9,66.3L-43.6,64.8L-43.1,63.4L-42.3,62.1L-40.9,61.2L-39.5,60.5L-38.7,60.2L-39.3,61.6L-40.2,62.7L-39.3,63.6L-38.7,64.3L-38.0,65.6L-37.6,66.8L-36.6,68.5L-38.1,68.8L-39.4,69.6L-40.6,70.5L-41.7,70.7L-40.1,71.5L-38.7,72.2L-37.1,72.4L-35.5,73.1L-34.2,73.2L-32.9,73.6L-31.2,73.6L-29.9,73.5L-28.5,73.0L-27.1,72.9L-25.6,72.3L-24.1,72.2L-22.8,72.5L-21.0,72.9L-19.5,72.8L-18.3,72.9L-17.1,72.1L-15.4,71.4L-14.0,71.2L-13.0,70.5L-12.0,69.9L-10.9,69.9L-9.5,69.2L-8.0,68.3L-6.6,67.8L-5.2,67.3L-3.9,67.6L-2.2,67.2L-0.8,67.0L0.6,66.9L2.5,66.5L3.7,66.3L4.7,66.0L6.0,66.7L7.5,66.7L8.5,66.3L10.1,66.8L11.1,66.3L12.5,66.6L14.2,66.3L15.5,66.1L17.0,66.4L18.3,66.0L19.9,65.6L21.3,65.2L22.5,65.1L24.1,64.9L25.5,64.4L26.7,64.5L27.9,63.9L28.6,63.5L30.0,63.4L31.7,63.5L33.1,62.9L34.4,62.7L35.7,63.3L37.3,63.4L39.0,63.5L40.1,64.4L41.7,64.6L42.3,65.7L42.4,67.0L44.6,66.3L45.6,65.8L46.9,65.1L48.3,65.0L49.4,64.4L50.4,64.1L52.2,64.0L53.3,63.9L54.9,63.6L56.3,63.1L57.5,62.9L59.3,63.1L60.7,63.1L62.1,63.4L63.9,63.1L65.2,62.4L66.5,62.4L68.0,62.3L69.7,62.8L70.9,63.1L72.6,61.9L73.7,62.0L75.3,62.3L76.6,63.0L77.7,62.9L79.2,62.9L80.6,62.7L81.9,62.5L83.0,62.9L84.3,62.5L85.8,62.6L87.0,62.7L88.1,62.6L89.7,62.8L91.2,63.4L92.4,63.3L93.7,64.1L95.0,64.6L96.2,64.6L97.6,65.2L99.0,65.3L100.2,65.9L101.7,66.6L103.5,66.9L101.6,68.2L100.1,68.4L99.2,68.6L97.4,69.2L96.4,69.4L95.0,69.6L93.4,70.1L92.1,70.5L91.1,70.9L89.7,71.8L88.3,72.6L87.4,72.8L85.9,73.4L84.5,73.8L85.8,75.1L84.9,76.2L83.9,77.0L83.2,77.6M-89.3,74.0L-88.2,74.5L-86.5,74.4L-85.3,74.6L-83.9,74.7L-82.5,74.6L-81.3,75.2L-79.7,74.9L-78.8,75.5L-77.3,75.3L-76.1,75.1L-74.6,75.4L-73.3,75.6L-72.2,75.6L-70.9,75.8"/>
<path id="frame" d="M-82.1,78.2L-88.2,76.3L-95.8,73.5L-103.8,69.9L-110.8,66.0L-117.1,61.8L-123.1,57.5L-128.8,52.9L-133.8,48.3L-138.2,43.6L-142.1,38.8L-145.4,33.9L-148.0,29.1L-150.0,24.2L-151.5,19.4L-152.7,14.5L-153.5,9.7L-154.0,4.8L-154.2,0.0L-154.0,-4.8L-153.5,-9.7L-152.7,-14.5L-151.5,-19.4L-150.0,-24.2L-148.0,-29.1L-145.4,-33.9L-142.1,-38.8L-138.2,-43.6L-133.8,-48.3L-128.8,-52.9L-123.1,-57.5L-117.1,-61.8L-110.8,-66.0L-103.8,-69.9L-95.8,-73.5L-88.2,-76.3L-82.1,-78.2L-79.8,-78.2L-77.5,-78.2L-75.2,-78.2L-72.9,-78.2L-70.7,-78.2L-68.4,-78.2L-66.1,-78.2L-63.8,-78.2L-61.5,-78.2L-59.3,-78.2L-57.0,-78.2L-54.7,-78.2L-52.4,-78.2L-50.2,-78.2L-47.9,-78.2L-45.6,-78.2L-43.3,-78.2L-41.0,-78.2L-38.8,-78.2L-36.5,-78.2L-34.2,-78.2L-31.9,-78.2L-29.6,-78.2L-27.4,-78.2L-25.1,-78.2L-22.8,-78.2L-20.5,-78.2L-18.2,-78.2L-16.0,-78.2L-13.7,-78.2L-11.4,-78.2L-9.1,-78.2L-6.8,-78.2L-4.6,-78.2L-2.3,-78.2L0.0,-78.2L2.3,-78.2L4.6,-78.2L6.8,-78.2L9.1,-78.2L11.4,-78.2L13.7,-78.2L16.0,-78.2L18.2,-78.2L20.5,-78.2L22.8,-78.2L25.1,-78.2L27.4,-78.2L29.6,-78.2L31.9,-78.2L34.2,-78.2L36.5,-78.2L38.8,-78.2L41.0,-78.2L43.3,-78.2L45.6,-78.2L47.9,-78.2L50.2,-78.2L52.4,-78.2L54.7,-78.2L57.0,-78.2L59.3,-78.2L61.5,-78.2L63.8,-78.2L66.1,-78.2L68.4,-78.2L70.7,-78.2L72.9,-78.2L75.2,-78.2L77.5,-78.2L79.8,-78.2L82.1,-78.2L88.2,-76.3L95.8,-73.5L103.8,-69.9L110.8,-66.0L117.1,-61.8L123.1,-57.5L128.8,-52.9L133.8,-48.3L138.2,-43.6L142.1,-38.8L145.4,-33.9L148.0,-29.1L150.0,-24.2L151.5,-19.4L152.7,-14.5L153.5,-9.7L154.0,-4.8L154.2,0.0L154.0,4.8L153.5,9.7L152.7,14.5L151.5,19.4L150.0,24.2L148.0,29.1L145.4,33.9L142.1,38.8L138.2,43.6L133.8,48.3L128.8,52.9L123.1,57.5L117.1,61.8L110.8,66.0L103.8,69.9L95.8,73.5L88.2,76.3L82.1,78.2L79.8,78.2L77.5,78.2L75.2,78.2L72.9,78.2L70.7,78.2L68.4,78.2L66.1,78.2L63.8,78.2L61.5,78.2L59.3,78.2L57.0,78.2L54.7,78.2L52.4,78.2L50.2,78.2L47.9,78.2L45.6,78.2L43.3,78.2L41.0,78.2L38.8,78.2L36.5,78.2L34.2,78.2L31.9,78.2L29.6,78.2L27.4,78.2L25.1,78.2L22.8,78.2L20.5,78.2L18.2,78.2L16.0,78.2L13.7,78.2L11.4,78.2L9.1,78.2L6.8,78.2L4.6,78.2L2.3,78.2L0.0,78.2L-2.3,78.2L-4.6,78.2L-6.8,78.2L-9.1,78.2L-11.4,78.2L-13.7,78.2L-16.0,78.2L-18.2,78.2L-20.5,78.2L-22.8,78.2L-25.1,78.2L-27.4,78.2L-29.6,78.2L-31.9,78.2L-34.2,78.2L-36.5,78.2L-38.8,78.2L-41.0,78.2L-43.3,78.2L-45.6,78.2L-47.9,78.2L-50.2,78.2L-52.4,78.2L-54.7,78.2L-57.0,78.2L-59.3,78.2L-61.5,78.2L-63.8,78.2L-66.1,78.2L-68.4,78.2L-70.7,78.2L-72.9,78.2L-75.2,78.2L-77.5,78.2L-79.8,78.2Z"/>
</defs>
<clipPath id="clipa"><use href="#land" clip-rule="evenodd" transform="translate(181.30,91.20) scale(1.0000)"/></clipPath>
<g clip-path="url(#clipa)">
<rect x="25.1" y="1.2" width="312.4" height="180.0" fill="#3b4cc0"/>
<polygon points="101.0,42.0 108.0,44.0 115.0,48.0 118.0,55.0 116.0,63.0 112.0,65.0 104.0,61.0" fill="#5a78e4"/>
<polygon points="102.0,44.0 107.0,46.0 111.0,50.0 114.0,57.0 112.0,63.0 106.0,63.0 102.0,56.0" fill="#7ea1fa"/>
<polygon points="102.5,46.0 106.0,48.0 108.5,52.0 110.0,58.0 108.0,62.0 104.0,61.0 102.0,55.0" fill="#b6cefa"/>
<polygon points="95.5,40.0 98.5,40.0 99.5,41.5 97.0,41.5" fill="#d6dce4"/>
<polygon points="112.0,45.5 113.5,45.5 113.5,47.0 112.0,47.0" fill="#d6dce4"/>
<polygon points="116.0,45.5 117.5,45.5 117.5,47.0 116.0,47.0" fill="#d6dce4"/>
<polygon points="80.0,50.0 86.0,47.0 89.0,46.5 93.0,49.5 95.0,42.0 97.5,40.8 101.5,42.5 105.5,48.5 106.0,56.0 104.5,62.0 102.0,65.0 100.0,67.0 99.0,72.0 99.0,76.0 95.0,78.0 80.0,70.0" fill="#f59f80"/>
<polygon points="80.0,50.0 86.0,48.0 89.5,47.5 93.3,50.6 95.5,43.0 97.4,41.9 100.9,43.0 104.4,48.9 104.8,56.0 103.2,61.7 101.5,64.0 100.0,66.0 99.0,70.0 98.5,75.0 96.0,77.0 80.0,70.0" fill="#b40426"/>
<polygon points="111.5,61.5 114.5,62.0 115.0,66.0 112.0,66.0" fill="#f7b194"/>
<polygon points="100.0,69.0 103.0,69.0 103.0,72.0 100.0,72.0" fill="#b6cefa"/>
<polygon points="103.0,74.0 106.5,74.0 107.0,78.0 104.0,78.0" fill="#b40426"/>
<polygon points="106.0,78.0 110.0,78.0 110.0,81.5 106.0,81.5" fill="#f7b194"/>
<polygon points="113.0,79.0 121.5,79.0 122.0,84.0 120.5,88.0 118.0,90.0 114.5,89.0" fill="#b40426"/>
<polygon points="119.0,80.0 121.0,80.0 121.0,82.0 119.0,82.0" fill="#f7b194"/>
<polygon points="117.0,86.0 119.0,86.0 119.0,88.0 117.0,88.0" fill="#f59f80"/>
<polygon points="110.0,88.0 114.5,89.0 116.5,95.0 119.0,100.0 117.0,102.0 112.0,97.0" fill="#7ea1fa"/>
<polygon points="143.5,93.8 153.0,93.0 153.0,118.0 140.0,124.0 134.0,131.0 129.0,132.0 124.0,131.0 123.5,122.0 124.5,113.0 126.5,108.5 130.0,105.7" fill="#b40426"/>
<polygon points="141.0,91.5 145.0,93.0 130.0,106.5 126.5,105.0" fill="#a3c2fe"/>
<polygon points="142.8,92.8 145.2,93.6 131.0,106.6 128.6,105.6" fill="#d6dce4"/>
<polygon points="144.2,93.4 146.2,94.2 132.2,107.0 130.2,106.2" fill="#f7b194"/>
<polygon points="124.5,96.0 126.0,96.0 126.0,98.0 124.5,98.0" fill="#f59f80"/>
<polygon points="118.0,94.0 120.0,94.0 120.0,96.0 118.0,96.0" fill="#f7b194"/>
<polygon points="122.5,101.5 124.5,101.5 124.5,104.0 122.5,104.0" fill="#b40426"/>
<polygon points="127.0,108.0 131.0,108.0 131.0,111.0 128.5,113.0 127.0,112.0" fill="#b6cefa"/>
<polygon points="128.0,113.0 130.0,113.0 130.0,116.0 128.0,116.0" fill="#a3c2fe"/>
<polygon points="123.0,105.0 126.0,105.0 126.0,108.0 123.0,108.0" fill="#f59f80"/>
<polygon points="136.0,112.0 139.0,110.0 140.0,113.0 137.0,115.0" fill="#f7b194"/>
<polygon points="126.0,131.0 131.0,130.5 131.0,137.0 127.0,139.0" fill="#92b4fe"/>
<polygon points="168.0,30.0 185.0,30.0 197.0,38.0 198.0,49.0 185.0,49.0 172.0,48.0" fill="#7ea1fa"/>
<polygon points="170.0,35.0 180.0,36.0 188.0,43.0 186.0,48.0 175.0,48.0 170.0,44.0" fill="#92b4fe"/>
<polygon points="195.0,37.0 206.0,40.0 210.0,48.0 200.0,50.0 196.0,47.0" fill="#6c8ff1"/>
<polygon points="172.0,48.5 182.5,48.0 184.0,52.0 182.0,56.0 178.0,58.5 172.0,58.0" fill="#b40426"/>
<polygon points="175.0,48.5 179.0,48.5 179.0,50.5 175.0,50.5" fill="#f7b194"/>
<polygon points="186.8,46.2 191.8,46.2 191.8,50.0 186.8,50.0" fill="#b40426"/>
<polygon points="188.0,51.0 200.0,51.0 204.0,56.0 190.0,58.0" fill="#7ea1fa"/>
<polygon points="172.0,54.5 184.0,54.5 184.0,57.5 182.0,60.0 181.0,62.5 174.0,62.5" fill="#b40426"/>
<polygon points="183.8,62.5 186.5,62.5 186.5,67.0 183.8,67.0" fill="#b40426"/>
<polygon points="208.3,61.5 211.8,61.5 213.2,70.0 213.5,78.0 211.0,78.0 209.6,70.0" fill="#b40426"/>
<polygon points="210.5,76.5 219.0,75.5 220.5,84.0 214.0,86.0 210.5,83.0" fill="#b40426"/>
<polygon points="212.5,62.0 231.0,62.0 231.0,78.0 220.0,76.0 213.0,70.0" fill="#5a78e4"/>
<polygon points="213.0,63.0 219.0,63.0 219.0,70.0 213.0,70.0" fill="#92b4fe"/>
<polygon points="216.0,64.0 219.0,64.0 219.0,67.0 216.0,67.0" fill="#c6d6f1"/>
<polygon points="221.0,70.0 224.0,70.0 224.0,73.0 221.0,73.0" fill="#c6d6f1"/>
<polygon points="166.0,80.0 190.0,81.0 190.0,86.0 166.0,86.0" fill="#5a78e4"/>
<polygon points="172.0,82.0 176.0,82.0 176.0,85.0 172.0,85.0" fill="#92b4fe"/>
<polygon points="181.0,83.0 185.0,83.0 185.0,86.0 181.0,86.0" fill="#92b4fe"/>
<polygon points="188.5,83.5 206.0,83.5 206.0,88.0 196.5,88.0 196.5,90.5 188.5,90.5" fill="#b40426"/>
<polygon points="199.0,85.0 202.0,85.0 202.0,87.5 199.0,87.5" fill="#d6dce4"/>
<polygon points="203.5,84.0 215.5,84.0 216.0,92.0 207.0,93.0" fill="#b40426"/>
<polygon points="187.0,95.0 216.0,92.0 217.0,108.5 187.0,108.5" fill="#ef886b"/>
<polygon points="189.0,104.0 194.0,104.0 194.0,108.5 189.0,108.5" fill="#b40426"/>
<polygon points="200.0,98.0 204.0,98.0 204.0,101.0 200.0,101.0" fill="#b40426"/>
<polygon points="193.0,100.0 196.0,100.0 196.0,103.0 193.0,103.0" fill="#f5c2aa"/>
<polygon points="195.5,87.0 207.0,87.0 207.0,96.5 195.5,96.5" fill="#b6cefa"/>
<polygon points="197.0,89.0 204.0,89.0 204.0,93.0 197.0,93.0" fill="#d6dce4"/>
<polygon points="205.6,92.0 215.0,92.0 215.0,100.0 205.6,100.0" fill="#b40426"/>
<polygon points="192.0,98.0 197.0,98.0 197.0,102.0 192.0,102.0" fill="#b40426"/>
<polygon points="197.0,101.0 201.0,101.0 201.0,105.0 197.0,105.0" fill="#e57058"/>
<polygon points="201.0,101.3 209.0,101.3 209.0,108.3 201.0,108.3" fill="#a3c2fe"/>
<polygon points="212.5,102.0 216.0,102.0 216.0,108.0 212.5,108.0" fill="#a3c2fe"/>
<polygon points="207.0,105.0 210.0,105.0 210.0,109.0 207.0,109.0" fill="#b40426"/>
<polygon points="186.0,108.3 212.0,108.3 212.0,117.6 186.0,117.6" fill="#3b4cc0"/>
<polygon points="197.0,110.0 201.0,110.0 201.0,114.0 197.0,114.0" fill="#7ea1fa"/>
<polygon points="193.0,117.6 207.0,117.6 207.0,126.0 193.0,126.0" fill="#ef886b"/>
<polygon points="198.0,118.0 202.0,118.0 202.0,121.0 198.0,121.0" fill="#b40426"/>
<polygon points="216.0,102.0 226.0,102.0 226.0,117.0 216.0,117.0" fill="#a3c2fe"/>
<polygon points="219.5,108.0 221.5,108.0 221.5,111.0 219.5,111.0" fill="#f7b194"/>
<polygon points="224.6,54.5 227.2,54.5 227.2,59.6 224.6,59.6" fill="#b40426"/>
<polygon points="215.8,50.0 219.8,50.0 219.8,53.6 215.8,53.6" fill="#f7b194"/>
<polygon points="246.0,41.5 269.5,41.5 269.5,48.0 246.0,48.0" fill="#c6d6f1"/>
<polygon points="244.0,48.0 258.0,48.0 258.0,56.0 244.0,56.0" fill="#5a78e4"/>
<polygon points="248.0,49.0 252.0,49.0 252.0,52.0 248.0,52.0" fill="#92b4fe"/>
<polygon points="255.0,44.2 261.0,44.2 261.0,47.7 255.0,47.7" fill="#b40426"/>
<polygon points="249.0,44.5 252.0,44.5 252.0,47.0 249.0,47.0" fill="#f7b194"/>
<polygon points="234.0,54.0 238.8,53.8 238.8,59.5 234.0,59.5" fill="#f59f80"/>
<polygon points="236.0,56.0 240.0,54.5 246.0,57.5 252.0,59.5 256.0,61.5 258.0,70.0 256.0,86.0 238.0,86.0 233.0,66.0 234.0,60.0" fill="#b40426"/>
<polygon points="255.2,53.3 266.8,53.3 267.6,60.0 270.0,62.0 275.5,70.0 274.6,83.0 265.0,82.0 258.0,75.0 255.5,62.0" fill="#b40426"/>
<polygon points="268.5,44.0 281.0,44.0 281.3,55.0 279.0,59.6 270.0,59.6 267.5,52.0" fill="#b40426"/>
<polygon points="282.8,53.0 285.0,53.0 285.0,57.2 282.8,57.2" fill="#b40426"/>
<polygon points="230.5,15.5 234.5,15.5 234.5,18.5 230.5,18.5" fill="#b40426"/>
<polygon points="267.5,60.5 281.5,60.5 281.5,73.5 267.5,73.5" fill="#92b4fe"/>
<polygon points="268.5,61.0 278.0,61.0 278.0,71.0 268.5,71.0" fill="#3b4cc0"/>
<polygon points="265.0,58.0 268.0,58.0 268.0,61.0 265.0,61.0" fill="#f59f80"/>
<polygon points="282.0,45.0 300.0,40.0 305.0,55.0 290.0,62.0" fill="#92b4fe"/>
<polygon points="258.0,83.0 302.0,83.0 302.0,102.0 258.0,102.0" fill="#a3c2fe"/>
<polygon points="272.0,86.0 280.0,86.0 280.0,94.0 272.0,94.0" fill="#7ea1fa"/>
<polygon points="280.0,70.0 290.0,70.0 290.0,85.0 280.0,85.0" fill="#92b4fe"/>
<polygon points="249.0,83.0 252.0,83.0 252.0,86.0 249.0,86.0" fill="#f7b194"/>
<polygon points="276.0,103.0 296.0,103.0 296.0,117.0 276.0,117.0" fill="#6c8ff1"/>
<polygon points="290.0,100.0 310.0,100.0 310.0,116.0 290.0,116.0" fill="#4a63d3"/>
<polygon points="273.0,116.5 308.0,116.5 308.0,122.8 273.0,122.8" fill="#c6d6f1"/>
<polygon points="283.0,116.0 295.0,116.0 295.0,119.0 283.0,119.0" fill="#b6cefa"/>
<polygon points="292.5,122.5 308.0,121.0 308.0,129.0 292.5,129.0" fill="#b40426"/>
<polygon points="291.0,121.5 296.0,121.5 296.0,123.5 291.0,123.5" fill="#f59f80"/>
<polygon points="294.0,129.0 298.5,129.0 298.5,133.0 294.0,133.0" fill="#b40426"/>
<polygon points="273.0,121.0 278.0,121.0 278.0,126.0 273.0,126.0" fill="#f59f80"/>
<polygon points="306.0,126.0 325.0,126.0 325.0,136.0 306.0,136.0" fill="#f59f80"/>
<polygon points="305.0,133.0 313.0,133.0 313.0,138.0 305.0,138.0" fill="#7ea1fa"/>
</g>
<g transform="translate(181.30,91.20) scale(1.0000)" fill="none">
<use href="#bord" stroke="#000" stroke-width="0.4" stroke-opacity="0.9" stroke-linejoin="round"/>
<use href="#grat" stroke="#bbbbbb" stroke-width="0.5"/>
<use href="#land" stroke="#000" stroke-width="0.5" stroke-linejoin="round"/>
<use href="#ant" stroke="#000" stroke-width="0.75" stroke-linejoin="round"/>
<use href="#frame" stroke="#000" stroke-width="1.3"/>
</g>
<text x="50.9" y="35.7" class="tl" text-anchor="end" font-size="6.50">60°N</text>
<text x="26.0" y="64.1" class="tl" text-anchor="end" font-size="6.50">30°N</text>
<text x="22.0" y="93.2" class="tl" text-anchor="end" font-size="6.50">0°</text>
<text x="26.0" y="122.3" class="tl" text-anchor="end" font-size="6.50">30°S</text>
<text x="50.9" y="150.7" class="tl" text-anchor="end" font-size="6.50">60°S</text>
<text x="140.7" y="178.2" class="tl" text-anchor="middle" font-size="6.50">90°W</text>
<text x="181.7" y="178.2" class="tl" text-anchor="middle" font-size="6.50">0°</text>
<text x="222.7" y="178.2" class="tl" text-anchor="middle" font-size="6.50">90°E</text>
<rect x="128.30" y="190.10" width="5.98" height="8.40" fill="#3b4cc0"/>
<rect x="133.68" y="190.10" width="5.98" height="8.40" fill="#4a63d3"/>
<rect x="139.06" y="190.10" width="5.98" height="8.40" fill="#5a78e4"/>
<rect x="144.44" y="190.10" width="5.98" height="8.40" fill="#6c8ff1"/>
<rect x="149.82" y="190.10" width="5.98" height="8.40" fill="#7ea1fa"/>
<rect x="155.20" y="190.10" width="5.98" height="8.40" fill="#92b4fe"/>
<rect x="160.58" y="190.10" width="5.98" height="8.40" fill="#a3c2fe"/>
<rect x="165.96" y="190.10" width="5.98" height="8.40" fill="#b6cefa"/>
<rect x="171.34" y="190.10" width="5.98" height="8.40" fill="#c6d6f1"/>
<rect x="176.72" y="190.10" width="5.98" height="8.40" fill="#d6dce4"/>
<rect x="182.10" y="190.10" width="5.98" height="8.40" fill="#e3d9d3"/>
<rect x="187.48" y="190.10" width="5.98" height="8.40" fill="#efcfbf"/>
<rect x="192.86" y="190.10" width="5.98" height="8.40" fill="#f5c2aa"/>
<rect x="198.24" y="190.10" width="5.98" height="8.40" fill="#f7b194"/>
<rect x="203.62" y="190.10" width="5.98" height="8.40" fill="#f59f80"/>
<rect x="209.00" y="190.10" width="5.98" height="8.40" fill="#ef886b"/>
<rect x="214.38" y="190.10" width="5.98" height="8.40" fill="#e57058"/>
<rect x="219.76" y="190.10" width="5.98" height="8.40" fill="#d75445"/>
<rect x="225.14" y="190.10" width="5.98" height="8.40" fill="#c73635"/>
<rect x="230.52" y="190.10" width="5.38" height="8.40" fill="#b40426"/>
<rect x="128.30" y="190.10" width="107.60" height="8.40" fill="none" stroke="#000" stroke-width="0.5"/>
<line x1="128.30" y1="198.50" x2="128.30" y2="200.50" stroke="#000" stroke-width="0.6"/>
<text x="128.50" y="206.60" class="cb" text-anchor="middle" font-size="5.80">0</text>
<line x1="149.82" y1="198.50" x2="149.82" y2="200.50" stroke="#000" stroke-width="0.6"/>
<text x="150.02" y="206.60" class="cb" text-anchor="middle" font-size="5.80">2</text>
<line x1="171.34" y1="198.50" x2="171.34" y2="200.50" stroke="#000" stroke-width="0.6"/>
<text x="171.54" y="206.60" class="cb" text-anchor="middle" font-size="5.80">4</text>
<line x1="192.86" y1="198.50" x2="192.86" y2="200.50" stroke="#000" stroke-width="0.6"/>
<text x="193.06" y="206.60" class="cb" text-anchor="middle" font-size="5.80">6</text>
<line x1="214.38" y1="198.50" x2="214.38" y2="200.50" stroke="#000" stroke-width="0.6"/>
<text x="214.58" y="206.60" class="cb" text-anchor="middle" font-size="5.80">8</text>
<line x1="235.90" y1="198.50" x2="235.90" y2="200.50" stroke="#000" stroke-width="0.6"/>
<text x="236.10" y="206.60" class="cb" text-anchor="middle" font-size="5.80">10</text>
<text x="182.40" y="188.00" class="tl" text-anchor="middle" font-size="8.00">Co-P (mol kg<tspan dy="-3.20" font-size="5.60">−1</tspan><tspan dy="3.20">)</tspan></text>
<text x="181.6" y="7.9" class="tt" text-anchor="middle" font-size="8.88">Concomitant pollution caused by <tspan class="it">NH<tspan dy="1.80" font-size="6.30">4</tspan><tspan dx="-3.70" dy="-5.60" font-size="5.60">+</tspan><tspan dy="3.80" class="sl" rotate="-5">/</tspan><tspan>NH</tspan><tspan dy="1.80" font-size="6.30">3</tspan></tspan><tspan dy="-1.80"> in January</tspan></text>
<clipPath id="clipb"><use href="#land" clip-rule="evenodd" transform="translate(514.35,91.10) scale(1.0003)"/></clipPath>
<g clip-path="url(#clipb)">
<rect x="358.1" y="1.1" width="312.5" height="180.0" fill="#3b4cc0"/>
<polygon points="398.0,22.0 412.0,22.0 412.0,37.0 398.0,37.0" fill="#7ea1fa"/>
<polygon points="440.0,28.0 470.0,25.0 470.0,45.0 450.0,45.0" fill="#a3c2fe"/>
<polygon points="451.0,32.0 468.0,32.0 468.0,42.0 451.0,42.0" fill="#b6cefa"/>
<polygon points="408.0,25.5 428.0,23.5 448.0,26.5 450.5,32.5 449.5,42.0 448.5,53.5 452.0,60.0 450.0,66.0 436.0,73.0 428.0,73.0 416.0,60.0 412.0,48.0 418.0,44.0 428.0,44.0 428.0,34.0 409.0,34.0" fill="#b40426"/>
<polygon points="446.0,37.0 462.0,40.0 466.0,46.0 462.0,54.0 450.0,56.0 447.0,50.0" fill="#f7b194"/>
<polygon points="447.0,44.0 456.0,46.0 458.0,52.0 452.0,56.0 447.0,54.0" fill="#b40426"/>
<polygon points="452.0,40.0 458.0,41.0 458.0,45.0 452.0,45.0" fill="#f59f80"/>
<polygon points="416.0,34.0 428.0,34.0 428.0,44.0 416.0,44.0" fill="#92b4fe"/>
<polygon points="420.0,36.0 426.0,36.0 426.0,40.0 420.0,40.0" fill="#f7b194"/>
<polygon points="414.0,44.0 462.0,44.0 462.0,63.0 445.0,66.0 432.0,72.0 428.0,72.0 420.0,58.0 414.0,50.0" fill="#b40426"/>
<polygon points="452.0,45.0 463.0,45.0 462.0,54.0 452.0,54.0" fill="#f59f80"/>
<polygon points="416.5,59.0 422.5,59.0 422.5,68.5 416.5,68.5" fill="#92b4fe"/>
<polygon points="429.0,68.0 432.0,68.0 432.0,73.0 429.0,73.0" fill="#b6cefa"/>
<polygon points="425.0,70.5 437.0,70.5 437.0,77.0 425.0,77.0" fill="#6c8ff1"/>
<polygon points="436.0,70.0 449.0,70.0 449.0,84.0 436.0,84.0" fill="#4a63d3"/>
<polygon points="444.0,80.0 451.5,80.0 451.5,101.0 444.0,101.0" fill="#f59f80"/>
<polygon points="449.5,80.0 452.0,80.0 452.0,85.0 449.5,85.0" fill="#b40426"/>
<polygon points="446.0,95.0 455.5,95.0 455.5,108.0 446.0,108.0" fill="#a3c2fe"/>
<polygon points="452.0,89.5 478.0,89.5 478.0,96.0 452.0,96.0" fill="#92b4fe"/>
<polygon points="456.0,91.0 468.0,91.0 468.0,96.0 456.0,96.0" fill="#c6d6f1"/>
<polygon points="455.4,95.6 476.0,95.2 482.0,100.0 482.0,118.0 475.0,126.0 468.0,132.0 464.0,133.5 456.0,131.0 455.6,120.0 455.4,105.0" fill="#b40426"/>
<polygon points="476.5,93.0 481.0,93.0 481.0,100.5 476.5,100.5" fill="#f59f80"/>
<polygon points="481.0,97.0 486.0,97.0 486.0,103.6 481.0,103.6" fill="#a3c2fe"/>
<polygon points="452.0,105.0 456.3,105.0 456.3,129.0 452.0,129.0" fill="#92b4fe"/>
<polygon points="465.4,116.2 474.0,116.2 474.0,126.0 465.4,126.0" fill="#f59f80"/>
<polygon points="466.0,117.0 470.0,117.0 470.0,122.0 466.0,122.0" fill="#b40426"/>
<polygon points="456.0,130.0 464.0,130.0 464.0,145.0 456.0,145.0" fill="#92b4fe"/>
<polygon points="517.0,22.0 545.0,22.0 545.0,33.0 517.0,33.0" fill="#92b4fe"/>
<polygon points="517.0,22.0 535.0,22.0 535.0,27.0 517.0,27.0" fill="#5a78e4"/>
<polygon points="519.0,31.0 537.0,30.5 537.0,38.0 519.0,38.0" fill="#b40426"/>
<polygon points="515.0,20.0 540.0,20.0 540.0,31.0 515.0,31.0" fill="#92b4fe"/>
<polygon points="515.0,20.0 533.0,20.0 533.0,26.0 515.0,26.0" fill="#5a78e4"/>
<polygon points="505.0,34.0 515.0,34.0 515.0,43.0 505.0,43.0" fill="#f59f80"/>
<polygon points="500.0,36.0 507.0,36.0 507.0,42.0 500.0,42.0" fill="#c6d6f1"/>
<polygon points="505.0,37.0 549.0,37.0 552.0,48.0 549.0,62.0 537.0,62.0 537.0,54.0 505.0,54.0" fill="#b40426"/>
<polygon points="505.0,35.0 514.0,35.0 514.0,41.0 505.0,41.0" fill="#f59f80"/>
<polygon points="536.0,20.0 600.0,20.0 600.0,31.5 536.0,31.5" fill="#7ea1fa"/>
<polygon points="540.0,26.0 556.0,26.0 556.0,31.5 540.0,31.5" fill="#b6cefa"/>
<polygon points="535.0,31.2 576.0,31.2 576.0,37.0 535.0,37.0" fill="#f5c2aa"/>
<polygon points="545.0,29.0 560.0,29.0 560.0,33.0 545.0,33.0" fill="#d6dce4"/>
<polygon points="539.0,36.8 577.0,36.5 577.0,45.5 539.0,45.5" fill="#b40426"/>
<polygon points="549.0,45.4 580.0,45.4 580.0,60.0 549.0,60.0" fill="#6c8ff1"/>
<polygon points="563.0,50.0 573.0,50.0 573.0,59.5 563.0,59.5" fill="#b40426"/>
<polygon points="551.0,46.0 560.0,46.0 560.0,50.0 551.0,50.0" fill="#a3c2fe"/>
<polygon points="537.0,49.0 551.7,49.0 551.7,62.0 537.0,62.0" fill="#b40426"/>
<polygon points="506.0,55.0 513.0,55.0 513.0,62.0 506.0,62.0" fill="#b40426"/>
<polygon points="522.0,60.0 540.0,60.0 540.0,66.0 522.0,66.0" fill="#6c8ff1"/>
<polygon points="538.3,61.5 544.6,61.5 544.6,68.0 538.3,68.0" fill="#b40426"/>
<polygon points="545.5,60.0 563.0,60.0 563.0,78.5 545.5,78.5" fill="#a3c2fe"/>
<polygon points="548.0,63.0 552.0,63.0 552.0,67.0 548.0,67.0" fill="#d6dce4"/>
<polygon points="553.5,65.5 558.5,65.5 558.5,72.5 553.5,72.5" fill="#b40426"/>
<polygon points="555.0,70.0 559.0,70.0 559.0,75.0 555.0,75.0" fill="#b40426"/>
<polygon points="510.5,62.5 513.0,62.5 513.0,65.0 510.5,65.0" fill="#b40426"/>
<polygon points="517.0,69.0 519.5,69.0 519.5,71.5 517.0,71.5" fill="#b40426"/>
<polygon points="523.3,72.5 525.8,72.5 525.8,75.0 523.3,75.0" fill="#b40426"/>
<polygon points="527.5,71.0 530.0,71.0 530.0,73.5 527.5,73.5" fill="#b40426"/>
<polygon points="530.0,75.0 532.5,75.0 532.5,77.5 530.0,77.5" fill="#b40426"/>
<polygon points="509.0,75.0 511.5,75.0 511.5,77.5 509.0,77.5" fill="#b40426"/>
<polygon points="504.2,77.0 506.7,77.0 506.7,79.5 504.2,79.5" fill="#b40426"/>
<polygon points="516.5,75.0 519.0,75.0 519.0,77.5 516.5,77.5" fill="#b40426"/>
<polygon points="506.0,77.2 548.0,77.2 548.0,86.5 506.0,86.5" fill="#f5c2aa"/>
<polygon points="506.0,80.0 520.0,80.0 520.0,86.0 506.0,86.0" fill="#a3c2fe"/>
<polygon points="520.0,79.0 533.0,79.0 533.0,84.0 520.0,84.0" fill="#d6dce4"/>
<polygon points="545.5,77.0 551.5,77.0 551.5,84.3 545.5,84.3" fill="#b40426"/>
<polygon points="522.0,82.0 539.7,82.0 539.7,91.5 522.0,91.5" fill="#b6cefa"/>
<polygon points="524.0,84.0 530.0,84.0 530.0,88.0 524.0,88.0" fill="#f59f80"/>
<polygon points="539.5,85.4 549.0,85.4 549.0,93.5 539.5,93.5" fill="#ef886b"/>
<polygon points="541.0,87.0 548.0,87.0 548.0,93.0 541.0,93.0" fill="#b40426"/>
<polygon points="520.0,91.5 549.0,91.5 552.0,110.0 545.0,128.0 530.0,128.0 520.0,110.0" fill="#b40426"/>
<polygon points="528.0,86.0 540.0,86.0 540.0,92.0 528.0,92.0" fill="#b6cefa"/>
<polygon points="522.0,85.0 528.0,85.0 528.0,89.5 522.0,89.5" fill="#f59f80"/>
<polygon points="522.0,111.8 528.0,111.8 528.0,117.6 522.0,117.6" fill="#92b4fe"/>
<polygon points="545.6,96.7 550.0,96.7 550.0,108.3 545.6,108.3" fill="#f59f80"/>
<polygon points="549.0,100.0 560.0,100.0 560.0,120.0 549.0,120.0" fill="#ef886b"/>
<polygon points="551.0,104.0 555.0,104.0 555.0,112.0 551.0,112.0" fill="#b40426"/>
<polygon points="553.0,100.0 560.0,100.0 560.0,105.0 553.0,105.0" fill="#5a78e4"/>
<polygon points="553.0,19.0 612.0,19.0 612.0,28.0 553.0,28.0" fill="#6c8ff1"/>
<polygon points="575.0,22.0 590.0,22.0 590.0,27.0 575.0,27.0" fill="#92b4fe"/>
<polygon points="555.0,26.5 578.0,26.5 578.0,35.0 555.0,35.0" fill="#f7b194"/>
<polygon points="576.0,26.5 609.0,26.5 612.0,34.0 614.0,45.0 612.4,58.4 577.4,58.4 576.0,45.0" fill="#b40426"/>
<polygon points="540.0,35.0 577.4,35.0 577.4,46.7 540.0,46.7" fill="#b40426"/>
<polygon points="557.5,42.0 569.0,42.0 569.0,45.5 557.5,45.5" fill="#f7b194"/>
<polygon points="577.4,38.5 589.0,38.5 589.0,45.5 577.4,45.5" fill="#b6cefa"/>
<polygon points="580.0,40.0 585.0,40.0 585.0,43.0 580.0,43.0" fill="#d6dce4"/>
<polygon points="594.0,44.0 596.0,44.0 596.0,46.0 594.0,46.0" fill="#d6dce4"/>
<polygon points="551.7,46.7 578.5,46.7 578.5,64.2 551.7,64.2" fill="#4a63d3"/>
<polygon points="553.0,48.0 560.0,48.0 560.0,52.0 553.0,52.0" fill="#7ea1fa"/>
<polygon points="570.0,47.0 575.0,47.0 575.0,50.0 570.0,50.0" fill="#92b4fe"/>
<polygon points="565.0,52.0 570.0,52.0 570.0,56.0 565.0,56.0" fill="#b40426"/>
<polygon points="568.0,56.0 574.0,56.0 574.0,61.0 568.0,61.0" fill="#b40426"/>
<polygon points="575.0,46.7 579.7,46.7 579.7,53.7 575.0,53.7" fill="#b40426"/>
<polygon points="561.0,54.0 564.0,54.0 564.0,57.0 561.0,57.0" fill="#b40426"/>
<polygon points="537.0,46.7 551.7,46.7 551.7,62.0 537.0,62.0" fill="#b40426"/>
<polygon points="551.7,64.2 563.4,64.2 563.4,75.0 551.7,75.0" fill="#4a63d3"/>
<polygon points="554.0,66.5 558.7,66.5 558.7,72.4 554.0,72.4" fill="#b40426"/>
<polygon points="578.5,50.0 596.0,50.0 596.0,58.4 578.5,58.4" fill="#7ea1fa"/>
<polygon points="582.0,52.0 588.0,52.0 588.0,57.0 582.0,57.0" fill="#4a63d3"/>
<polygon points="586.7,58.4 598.4,58.4 598.4,62.0 586.7,62.0" fill="#b40426"/>
<polygon points="586.7,61.0 598.4,61.0 598.4,64.2 586.7,64.2" fill="#f59f80"/>
<polygon points="575.0,60.0 586.7,60.0 586.7,64.2 575.0,64.2" fill="#a3c2fe"/>
<polygon points="574.7,64.2 598.4,64.2 598.4,84.0 574.7,84.0" fill="#f5c2aa"/>
<polygon points="580.0,66.0 590.0,66.0 590.0,72.0 580.0,72.0" fill="#d6dce4"/>
<polygon points="574.0,66.0 580.0,66.0 580.0,76.0 574.0,76.0" fill="#a3c2fe"/>
<polygon points="585.0,74.0 590.0,74.0 590.0,80.0 585.0,80.0" fill="#f7b194"/>
<polygon points="603.0,36.0 618.5,36.0 618.5,53.5 603.0,53.5" fill="#f7b194"/>
<polygon points="596.0,44.0 610.0,44.0 610.0,58.0 596.0,58.0" fill="#b40426"/>
<polygon points="612.0,24.0 630.0,24.0 630.0,45.0 612.0,45.0" fill="#a3c2fe"/>
<polygon points="614.0,44.0 625.0,44.0 625.0,58.0 614.0,58.0" fill="#92b4fe"/>
<polygon points="617.0,48.0 624.0,48.0 624.0,58.0 617.0,58.0" fill="#f5c2aa"/>
<polygon points="619.0,52.0 623.0,52.0 623.0,56.0 619.0,56.0" fill="#f7b194"/>
<polygon points="596.0,58.4 614.7,58.4 614.7,63.0 596.0,63.0" fill="#b40426"/>
<polygon points="596.0,63.0 614.7,63.0 614.7,66.5 596.0,66.5" fill="#f7b194"/>
<polygon points="608.0,62.0 615.0,62.0 615.0,69.0 608.0,69.0" fill="#a3c2fe"/>
<polygon points="598.0,66.5 608.0,66.5 608.0,69.0 598.0,69.0" fill="#d6dce4"/>
<polygon points="597.0,68.7 608.0,68.7 608.0,83.0 597.0,83.0" fill="#c6d6f1"/>
<polygon points="598.5,76.8 601.0,76.8 601.0,79.5 598.5,79.5" fill="#b40426"/>
<polygon points="590.0,83.0 640.0,83.0 640.0,102.0 590.0,102.0" fill="#b6cefa"/>
<polygon points="620.0,82.7 623.0,82.7 623.0,85.5 620.0,85.5" fill="#b40426"/>
<polygon points="628.0,90.0 650.0,90.0 650.0,103.0 628.0,103.0" fill="#5a78e4"/>
<polygon points="624.5,27.5 629.5,27.5 629.5,30.5 624.5,30.5" fill="#b40426"/>
<polygon points="623.0,26.5 625.0,26.5 625.0,28.5 623.0,28.5" fill="#d6dce4"/>
<polygon points="608.0,100.0 645.0,100.0 645.0,132.0 608.0,132.0" fill="#4a63d3"/>
<polygon points="620.0,100.5 632.0,100.5 632.0,108.7 620.0,108.7" fill="#b40426"/>
<polygon points="630.0,106.0 645.0,106.0 645.0,128.0 630.0,128.0" fill="#ef886b"/>
<polygon points="633.0,108.0 645.0,108.0 645.0,122.0 633.0,122.0" fill="#b40426"/>
<polygon points="607.0,110.0 620.0,110.0 620.0,120.4 607.0,120.4" fill="#f59f80"/>
<polygon points="610.0,113.0 614.0,113.0 614.0,117.0 610.0,117.0" fill="#b40426"/>
<polygon points="605.0,120.0 630.0,120.0 630.0,128.0 605.0,128.0" fill="#a3c2fe"/>
<polygon points="638.0,126.0 660.0,126.0 660.0,140.0 638.0,140.0" fill="#92b4fe"/>
</g>
<g transform="translate(514.35,91.10) scale(1.0003)" fill="none">
<use href="#bord" stroke="#000" stroke-width="0.4" stroke-opacity="0.9" stroke-linejoin="round"/>
<use href="#grat" stroke="#bbbbbb" stroke-width="0.5"/>
<use href="#land" stroke="#000" stroke-width="0.5" stroke-linejoin="round"/>
<use href="#ant" stroke="#000" stroke-width="0.75" stroke-linejoin="round"/>
<use href="#frame" stroke="#000" stroke-width="1.3"/>
</g>
<text x="383.9" y="35.6" class="tl" text-anchor="end" font-size="6.50">60°N</text>
<text x="359.0" y="64.0" class="tl" text-anchor="end" font-size="6.50">30°N</text>
<text x="355.0" y="93.1" class="tl" text-anchor="end" font-size="6.50">0°</text>
<text x="359.0" y="122.2" class="tl" text-anchor="end" font-size="6.50">30°S</text>
<text x="383.9" y="150.6" class="tl" text-anchor="end" font-size="6.50">60°S</text>
<text x="473.7" y="178.1" class="tl" text-anchor="middle" font-size="6.50">90°W</text>
<text x="514.8" y="178.1" class="tl" text-anchor="middle" font-size="6.50">0°</text>
<text x="555.8" y="178.1" class="tl" text-anchor="middle" font-size="6.50">90°E</text>
<rect x="461.33" y="190.03" width="5.98" height="8.40" fill="#3b4cc0"/>
<rect x="466.71" y="190.03" width="5.98" height="8.40" fill="#4a63d3"/>
<rect x="472.10" y="190.03" width="5.98" height="8.40" fill="#5a78e4"/>
<rect x="477.48" y="190.03" width="5.98" height="8.40" fill="#6c8ff1"/>
<rect x="482.86" y="190.03" width="5.98" height="8.40" fill="#7ea1fa"/>
<rect x="488.24" y="190.03" width="5.98" height="8.40" fill="#92b4fe"/>
<rect x="493.62" y="190.03" width="5.98" height="8.40" fill="#a3c2fe"/>
<rect x="499.01" y="190.03" width="5.98" height="8.40" fill="#b6cefa"/>
<rect x="504.39" y="190.03" width="5.98" height="8.40" fill="#c6d6f1"/>
<rect x="509.77" y="190.03" width="5.98" height="8.40" fill="#d6dce4"/>
<rect x="515.15" y="190.03" width="5.98" height="8.40" fill="#e3d9d3"/>
<rect x="520.53" y="190.03" width="5.98" height="8.40" fill="#efcfbf"/>
<rect x="525.91" y="190.03" width="5.98" height="8.40" fill="#f5c2aa"/>
<rect x="531.30" y="190.03" width="5.98" height="8.40" fill="#f7b194"/>
<rect x="536.68" y="190.03" width="5.98" height="8.40" fill="#f59f80"/>
<rect x="542.06" y="190.03" width="5.98" height="8.40" fill="#ef886b"/>
<rect x="547.44" y="190.03" width="5.98" height="8.40" fill="#e57058"/>
<rect x="552.82" y="190.03" width="5.98" height="8.40" fill="#d75445"/>
<rect x="558.20" y="190.03" width="5.98" height="8.40" fill="#c73635"/>
<rect x="563.59" y="190.03" width="5.38" height="8.40" fill="#b40426"/>
<rect x="461.33" y="190.03" width="107.63" height="8.40" fill="none" stroke="#000" stroke-width="0.5"/>
<line x1="461.33" y1="198.43" x2="461.33" y2="200.44" stroke="#000" stroke-width="0.6"/>
<text x="461.53" y="206.54" class="cb" text-anchor="middle" font-size="5.80">0</text>
<line x1="482.86" y1="198.43" x2="482.86" y2="200.44" stroke="#000" stroke-width="0.6"/>
<text x="483.06" y="206.54" class="cb" text-anchor="middle" font-size="5.80">2</text>
<line x1="504.39" y1="198.43" x2="504.39" y2="200.44" stroke="#000" stroke-width="0.6"/>
<text x="504.59" y="206.54" class="cb" text-anchor="middle" font-size="5.80">4</text>
<line x1="525.91" y1="198.43" x2="525.91" y2="200.44" stroke="#000" stroke-width="0.6"/>
<text x="526.11" y="206.54" class="cb" text-anchor="middle" font-size="5.80">6</text>
<line x1="547.44" y1="198.43" x2="547.44" y2="200.44" stroke="#000" stroke-width="0.6"/>
<text x="547.64" y="206.54" class="cb" text-anchor="middle" font-size="5.80">8</text>
<line x1="568.97" y1="198.43" x2="568.97" y2="200.44" stroke="#000" stroke-width="0.6"/>
<text x="569.17" y="206.54" class="cb" text-anchor="middle" font-size="5.80">10</text>
<text x="515.45" y="187.93" class="tl" text-anchor="middle" font-size="8.00">Co-P (mol kg<tspan dy="-3.20" font-size="5.60">−1</tspan><tspan dy="3.20">)</tspan></text>
<text x="514.6" y="7.8" class="tt" text-anchor="middle" font-size="8.88">Concomitant pollution caused by <tspan class="it">NH<tspan dy="1.80" font-size="6.30">4</tspan><tspan dx="-3.70" dy="-5.60" font-size="5.60">+</tspan><tspan dy="3.80" class="sl" rotate="-5">/</tspan><tspan>NH</tspan><tspan dy="1.80" font-size="6.30">3</tspan></tspan><tspan dy="-1.80"> in July</tspan></text>
<clipPath id="clipc"><use href="#land" clip-rule="evenodd" transform="translate(183.35,311.20) scale(1.0139)"/></clipPath>
<g clip-path="url(#clipc)">
<rect x="25.0" y="221.2" width="316.7" height="180.0" fill="#3b4cc0"/>
<polygon points="72.0,244.0 84.0,244.0 84.0,250.0 72.0,250.0" fill="#4a63d3"/>
<polygon points="96.0,248.0 99.0,248.0 99.0,252.0 96.0,252.0" fill="#5a78e4"/>
<polygon points="100.0,254.0 112.0,254.0 112.0,260.0 100.0,260.0" fill="#4a63d3"/>
<polygon points="84.0,270.0 103.0,270.0 103.0,294.0 84.0,294.0" fill="#7ea1fa"/>
<polygon points="100.0,272.0 106.0,272.0 106.0,282.0 100.0,282.0" fill="#6c8ff1"/>
<polygon points="86.0,271.0 98.0,271.0 98.0,276.0 86.0,276.0" fill="#b6cefa"/>
<polygon points="85.0,275.0 93.0,275.0 96.0,278.0 97.5,283.7 95.0,288.0 92.5,283.0 85.0,279.0" fill="#b40426"/>
<polygon points="92.5,280.0 97.5,280.0 98.0,288.4 93.0,288.4" fill="#ef886b"/>
<polygon points="95.0,276.0 98.0,276.0 98.0,279.0 95.0,279.0" fill="#f59f80"/>
<polygon points="112.5,282.0 115.0,282.0 115.0,285.5 112.5,285.5" fill="#f59f80"/>
<polygon points="113.0,300.0 160.0,300.0 160.0,360.0 113.0,360.0" fill="#5a78e4"/>
<polygon points="116.0,303.0 130.5,303.0 130.5,315.4 116.0,315.4" fill="#7ea1fa"/>
<polygon points="128.0,316.0 141.0,316.0 141.0,324.0 128.0,324.0" fill="#6c8ff1"/>
<polygon points="135.7,323.6 148.0,323.6 148.0,335.0 135.7,335.0" fill="#92b4fe"/>
<polygon points="138.0,328.0 146.0,328.0 146.0,335.0 138.0,335.0" fill="#b6cefa"/>
<polygon points="122.0,330.0 135.0,330.0 135.0,345.0 122.0,345.0" fill="#7ea1fa"/>
<polygon points="128.0,338.0 134.0,338.0 134.0,343.0 128.0,343.0" fill="#92b4fe"/>
<polygon points="119.3,316.5 121.3,316.5 121.3,320.5 119.3,320.5" fill="#b40426"/>
<polygon points="125.4,318.5 127.5,318.5 127.5,320.5 125.4,320.5" fill="#b40426"/>
<polygon points="121.5,320.5 123.5,320.5 123.5,322.5 121.5,322.5" fill="#b40426"/>
<polygon points="174.0,276.0 195.0,276.0 195.0,287.8 174.0,287.8" fill="#b40426"/>
<polygon points="175.0,278.0 183.0,278.0 183.0,281.0 175.0,281.0" fill="#f59f80"/>
<polygon points="188.0,278.0 192.0,278.0 192.0,284.0 188.0,284.0" fill="#a3c2fe"/>
<polygon points="206.5,280.0 221.0,280.0 221.0,285.0 206.5,285.0" fill="#b40426"/>
<polygon points="209.0,280.0 227.7,280.0 227.7,294.9 212.0,294.9" fill="#b40426"/>
<polygon points="214.0,284.0 220.0,284.0 220.0,290.0 214.0,290.0" fill="#a3c2fe"/>
<polygon points="220.7,266.0 240.0,266.0 240.0,285.0 220.7,285.0" fill="#4a63d3"/>
<polygon points="222.0,270.0 226.0,270.0 226.0,275.0 222.0,275.0" fill="#7ea1fa"/>
<polygon points="224.0,268.0 229.0,268.0 229.0,272.0 224.0,272.0" fill="#a3c2fe"/>
<polygon points="227.0,276.0 231.0,276.0 231.0,281.0 227.0,281.0" fill="#f7b194"/>
<polygon points="230.0,272.0 236.0,272.0 236.0,277.0 230.0,277.0" fill="#f59f80"/>
<polygon points="230.5,277.0 238.7,277.0 238.7,281.7 230.5,281.7" fill="#b40426"/>
<polygon points="169.3,298.4 177.5,298.4 177.5,304.2 169.3,304.2" fill="#b40426"/>
<polygon points="177.5,300.0 192.0,300.0 192.0,305.0 177.5,305.0" fill="#a3c2fe"/>
<polygon points="192.7,299.5 211.4,299.5 211.4,312.0 192.7,309.0" fill="#b40426"/>
<polygon points="210.0,298.4 217.2,298.4 217.2,305.4 210.0,305.4" fill="#b40426"/>
<polygon points="196.0,309.0 206.0,309.0 206.0,312.5 196.0,312.5" fill="#d6dce4"/>
<polygon points="193.0,309.0 198.0,309.0 198.0,313.5 193.0,313.5" fill="#f59f80"/>
<polygon points="195.0,310.8 215.0,310.8 215.0,320.1 195.0,320.1" fill="#a3c2fe"/>
<polygon points="199.0,312.4 209.0,312.4 209.0,318.0 199.0,318.0" fill="#c6d6f1"/>
<polygon points="190.0,320.0 225.0,320.0 225.0,350.0 190.0,350.0" fill="#4a63d3"/>
<polygon points="237.0,244.0 251.0,244.0 251.0,248.6 237.0,248.6" fill="#5a78e4"/>
<polygon points="260.6,255.6 270.0,255.6 270.0,260.3 260.6,260.3" fill="#6c8ff1"/>
<polygon points="270.0,244.0 284.0,244.0 284.0,251.0 270.0,251.0" fill="#5a78e4"/>
<polygon points="253.6,269.6 263.0,269.6 263.0,274.3 253.6,274.3" fill="#6c8ff1"/>
<polygon points="237.0,260.3 246.6,260.3 246.6,267.3 237.0,267.3" fill="#5a78e4"/>
<polygon points="228.0,262.0 245.7,262.0 245.7,285.0 228.0,285.0" fill="#4a63d3"/>
<polygon points="230.0,268.0 235.0,268.0 235.0,273.0 230.0,273.0" fill="#7ea1fa"/>
<polygon points="240.0,272.0 244.0,272.0 244.0,276.0 240.0,276.0" fill="#92b4fe"/>
<polygon points="236.0,266.0 240.0,266.0 240.0,270.0 236.0,270.0" fill="#a3c2fe"/>
<polygon points="230.0,273.5 239.3,273.5 239.3,281.7 230.0,281.7" fill="#f59f80"/>
<polygon points="233.0,278.0 239.0,278.0 239.0,282.0 233.0,282.0" fill="#b40426"/>
<polygon points="247.5,281.7 260.4,281.7 260.4,288.7 247.5,288.7" fill="#a3c2fe"/>
<polygon points="237.0,282.0 244.0,285.0 250.0,290.0 253.5,296.0 252.0,299.0 246.0,296.0 241.0,290.0 236.5,285.0" fill="#b40426"/>
<polygon points="245.0,287.5 253.4,287.5 253.4,298.0 245.0,298.0" fill="#b40426"/>
<polygon points="244.0,288.0 246.0,288.0 246.0,296.0 244.0,296.0" fill="#f59f80"/>
<polygon points="238.0,288.0 245.0,288.0 245.0,298.0 238.0,298.0" fill="#a3c2fe"/>
<polygon points="263.9,287.5 267.0,287.5 267.0,294.0 263.9,294.0" fill="#ef886b"/>
<polygon points="267.4,294.5 274.4,294.5 274.4,301.5 267.4,301.5" fill="#b40426"/>
<polygon points="264.0,294.0 268.0,294.0 268.0,298.0 264.0,298.0" fill="#f59f80"/>
<polygon points="262.0,304.0 300.0,304.0 300.0,320.0 262.0,320.0" fill="#7ea1fa"/>
<polygon points="286.9,329.9 293.9,329.9 293.9,341.5 286.9,341.5" fill="#7ea1fa"/>
<polygon points="293.9,332.2 296.2,332.2 296.2,340.4 293.9,340.4" fill="#b40426"/>
<polygon points="295.0,339.8 300.9,339.8 300.9,341.5 295.0,341.5" fill="#b40426"/>
<polygon points="296.2,332.8 300.9,332.8 300.9,335.7 296.2,335.7" fill="#ef886b"/>
</g>
<g transform="translate(183.35,311.20) scale(1.0139)" fill="none">
<use href="#bord" stroke="#000" stroke-width="0.4" stroke-opacity="0.9" stroke-linejoin="round"/>
<use href="#grat" stroke="#bbbbbb" stroke-width="0.5"/>
<use href="#land" stroke="#000" stroke-width="0.5" stroke-linejoin="round"/>
<use href="#ant" stroke="#000" stroke-width="0.75" stroke-linejoin="round"/>
<use href="#frame" stroke="#000" stroke-width="1.3"/>
</g>
<text x="51.1" y="255.0" class="tl" text-anchor="end" font-size="6.59">60°N</text>
<text x="25.9" y="283.7" class="tl" text-anchor="end" font-size="6.59">30°N</text>
<text x="21.8" y="313.2" class="tl" text-anchor="end" font-size="6.59">0°</text>
<text x="25.9" y="342.7" class="tl" text-anchor="end" font-size="6.59">30°S</text>
<text x="51.1" y="371.5" class="tl" text-anchor="end" font-size="6.59">60°S</text>
<text x="142.1" y="399.4" class="tl" text-anchor="middle" font-size="6.59">90°W</text>
<text x="183.8" y="399.4" class="tl" text-anchor="middle" font-size="6.59">0°</text>
<text x="225.4" y="399.4" class="tl" text-anchor="middle" font-size="6.59">90°E</text>
<rect x="129.61" y="412.08" width="6.06" height="8.52" fill="#3b4cc0"/>
<rect x="135.07" y="412.08" width="6.06" height="8.52" fill="#4a63d3"/>
<rect x="140.52" y="412.08" width="6.06" height="8.52" fill="#5a78e4"/>
<rect x="145.98" y="412.08" width="6.06" height="8.52" fill="#6c8ff1"/>
<rect x="151.43" y="412.08" width="6.06" height="8.52" fill="#7ea1fa"/>
<rect x="156.89" y="412.08" width="6.06" height="8.52" fill="#92b4fe"/>
<rect x="162.34" y="412.08" width="6.06" height="8.52" fill="#a3c2fe"/>
<rect x="167.80" y="412.08" width="6.06" height="8.52" fill="#b6cefa"/>
<rect x="173.25" y="412.08" width="6.06" height="8.52" fill="#c6d6f1"/>
<rect x="178.71" y="412.08" width="6.06" height="8.52" fill="#d6dce4"/>
<rect x="184.16" y="412.08" width="6.06" height="8.52" fill="#e3d9d3"/>
<rect x="189.62" y="412.08" width="6.06" height="8.52" fill="#efcfbf"/>
<rect x="195.07" y="412.08" width="6.06" height="8.52" fill="#f5c2aa"/>
<rect x="200.53" y="412.08" width="6.06" height="8.52" fill="#f7b194"/>
<rect x="205.98" y="412.08" width="6.06" height="8.52" fill="#f59f80"/>
<rect x="211.44" y="412.08" width="6.06" height="8.52" fill="#ef886b"/>
<rect x="216.89" y="412.08" width="6.06" height="8.52" fill="#e57058"/>
<rect x="222.35" y="412.08" width="6.06" height="8.52" fill="#d75445"/>
<rect x="227.80" y="412.08" width="6.06" height="8.52" fill="#c73635"/>
<rect x="233.26" y="412.08" width="5.46" height="8.52" fill="#b40426"/>
<rect x="129.61" y="412.08" width="109.10" height="8.52" fill="none" stroke="#000" stroke-width="0.5"/>
<line x1="129.61" y1="420.60" x2="129.61" y2="422.62" stroke="#000" stroke-width="0.6"/>
<text x="129.81" y="428.81" class="cb" text-anchor="middle" font-size="5.88">0</text>
<line x1="151.43" y1="420.60" x2="151.43" y2="422.62" stroke="#000" stroke-width="0.6"/>
<text x="151.63" y="428.81" class="cb" text-anchor="middle" font-size="5.88">2</text>
<line x1="173.25" y1="420.60" x2="173.25" y2="422.62" stroke="#000" stroke-width="0.6"/>
<text x="173.45" y="428.81" class="cb" text-anchor="middle" font-size="5.88">4</text>
<line x1="195.07" y1="420.60" x2="195.07" y2="422.62" stroke="#000" stroke-width="0.6"/>
<text x="195.27" y="428.81" class="cb" text-anchor="middle" font-size="5.88">6</text>
<line x1="216.89" y1="420.60" x2="216.89" y2="422.62" stroke="#000" stroke-width="0.6"/>
<text x="217.09" y="428.81" class="cb" text-anchor="middle" font-size="5.88">8</text>
<line x1="238.71" y1="420.60" x2="238.71" y2="422.62" stroke="#000" stroke-width="0.6"/>
<text x="238.91" y="428.81" class="cb" text-anchor="middle" font-size="5.88">10</text>
<text x="184.47" y="409.95" class="tl" text-anchor="middle" font-size="8.11">Co-P (mol kg<tspan dy="-3.24" font-size="5.68">−1</tspan><tspan dy="3.24">)</tspan></text>
<text x="183.7" y="226.7" class="tt" text-anchor="middle" font-size="9.00">Concomitant pollution caused by <tspan class="it">HNO<tspan dy="1.83" font-size="6.39">3</tspan><tspan dy="-1.83" class="sl" rotate="-5">/</tspan><tspan>NO</tspan><tspan dy="1.83" font-size="6.39">3</tspan><tspan dx="-3.75" dy="-5.68" font-size="5.68">−</tspan></tspan><tspan dy="3.85"> in January</tspan></text>
<clipPath id="clipd"><use href="#land" clip-rule="evenodd" transform="translate(527.05,310.70) scale(1.0165)"/></clipPath>
<g clip-path="url(#clipd)">
<rect x="368.3" y="220.7" width="317.5" height="180.0" fill="#3b4cc0"/>
<polygon points="400.0,240.0 480.0,240.0 480.0,300.0 400.0,300.0" fill="#5a78e4"/>
<polygon points="440.0,252.5 457.5,252.5 457.5,261.9 440.0,261.9" fill="#7ea1fa"/>
<polygon points="430.0,262.0 468.0,262.0 468.0,285.0 430.0,285.0" fill="#92b4fe"/>
<polygon points="425.0,262.0 440.0,262.0 440.0,278.0 425.0,278.0" fill="#6c8ff1"/>
<polygon points="440.0,270.0 455.0,270.0 455.0,282.0 440.0,282.0" fill="#b6cefa"/>
<polygon points="445.0,265.5 465.0,265.5 465.0,274.0 445.0,274.0" fill="#d6dce4"/>
<polygon points="447.2,266.8 455.0,266.8 455.0,271.0 447.2,271.0" fill="#f5c2aa"/>
<polygon points="449.0,267.5 453.0,267.5 453.0,270.0 449.0,270.0" fill="#f59f80"/>
<polygon points="455.0,267.0 463.5,267.0 463.5,272.0 455.0,272.0" fill="#f7b194"/>
<polygon points="456.5,268.3 461.2,268.3 461.2,271.0 456.5,271.0" fill="#b40426"/>
<polygon points="432.0,272.0 440.0,272.0 440.0,280.0 432.0,280.0" fill="#c6d6f1"/>
<polygon points="435.0,274.0 438.0,274.0 438.0,277.0 435.0,277.0" fill="#d6dce4"/>
<polygon points="463.0,271.0 466.0,271.0 466.0,274.0 463.0,274.0" fill="#f7b194"/>
<polygon points="428.0,283.0 445.0,283.0 445.0,300.0 428.0,300.0" fill="#6c8ff1"/>
<polygon points="455.0,298.0 500.0,298.0 500.0,370.0 455.0,370.0" fill="#4a63d3"/>
<polygon points="466.0,300.0 480.0,300.0 480.0,312.0 466.0,312.0" fill="#6c8ff1"/>
<polygon points="470.0,312.0 488.0,312.0 488.0,330.0 470.0,330.0" fill="#7ea1fa"/>
<polygon points="464.3,302.0 466.5,302.0 466.5,304.5 464.3,304.5" fill="#b40426"/>
<polygon points="462.8,307.6 465.0,307.6 465.0,310.0 462.8,310.0" fill="#b40426"/>
<polygon points="468.0,335.0 478.0,335.0 478.0,352.0 468.0,352.0" fill="#a3c2fe"/>
<polygon points="480.2,329.6 487.8,329.6 487.8,333.8 480.2,333.8" fill="#f59f80"/>
<polygon points="467.6,329.2 470.4,329.2 470.4,337.6 467.6,337.6" fill="#b40426"/>
<polygon points="467.6,340.4 469.7,340.4 469.7,344.6 467.6,344.6" fill="#b40426"/>
<polygon points="469.7,341.8 474.6,341.8 474.6,348.8 469.7,348.8" fill="#f59f80"/>
<polygon points="515.0,245.0 548.0,245.0 548.0,258.0 515.0,258.0" fill="#6c8ff1"/>
<polygon points="545.0,250.0 580.0,250.0 580.0,268.0 545.0,268.0" fill="#92b4fe"/>
<polygon points="527.0,256.0 557.6,256.0 557.6,266.5 527.0,266.5" fill="#f5c2aa"/>
<polygon points="546.0,256.0 557.6,256.0 557.6,261.0 546.0,261.0" fill="#d6dce4"/>
<polygon points="517.0,250.0 527.0,250.0 527.0,262.0 517.0,262.0" fill="#92b4fe"/>
<polygon points="533.0,256.0 546.0,256.0 546.0,264.2 533.0,264.2" fill="#b40426"/>
<polygon points="523.7,261.9 533.0,261.9 533.0,265.4 523.7,265.4" fill="#b40426"/>
<polygon points="520.0,267.7 528.4,267.7 528.4,273.5 520.0,273.5" fill="#f5c2aa"/>
<polygon points="530.0,266.0 545.0,266.0 545.0,278.0 530.0,278.0" fill="#92b4fe"/>
<polygon points="567.0,266.5 579.7,266.5 579.7,273.5 567.0,273.5" fill="#b40426"/>
<polygon points="545.0,270.0 570.0,270.0 570.0,280.0 545.0,280.0" fill="#6c8ff1"/>
<polygon points="523.7,274.7 528.4,274.7 528.4,282.0 523.7,282.0" fill="#b40426"/>
<polygon points="530.0,277.0 534.0,277.0 534.0,280.0 530.0,280.0" fill="#b40426"/>
<polygon points="528.4,291.4 540.0,291.4 540.0,299.5 528.4,299.5" fill="#b40426"/>
<polygon points="520.0,294.9 528.4,294.9 528.4,300.7 520.0,300.7" fill="#b40426"/>
<polygon points="535.4,287.8 543.5,287.8 543.5,292.5 535.4,292.5" fill="#b40426"/>
<polygon points="522.0,287.0 525.0,287.0 525.0,290.0 522.0,290.0" fill="#b40426"/>
<polygon points="531.0,297.0 535.0,297.0 535.0,300.0 531.0,300.0" fill="#f59f80"/>
<polygon points="528.0,282.7 531.5,282.7 531.5,288.6 528.0,288.6" fill="#b40426"/>
<polygon points="535.0,280.4 541.0,280.4 541.0,283.9 535.0,283.9" fill="#b40426"/>
<polygon points="542.0,292.0 546.7,292.0 546.7,296.7 542.0,296.7" fill="#b40426"/>
<polygon points="517.5,295.6 522.2,295.6 522.2,300.2 517.5,300.2" fill="#b40426"/>
<polygon points="524.0,289.0 527.0,289.0 527.0,292.0 524.0,292.0" fill="#b40426"/>
<polygon points="552.9,291.4 561.0,291.4 561.0,296.0 552.9,296.0" fill="#b40426"/>
<polygon points="565.7,279.7 577.4,279.7 577.4,293.7 565.7,293.7" fill="#92b4fe"/>
<polygon points="570.0,282.0 574.0,282.0 574.0,286.0 570.0,286.0" fill="#b40426"/>
<polygon points="566.0,289.0 569.0,289.0 569.0,292.0 566.0,292.0" fill="#b40426"/>
<polygon points="535.0,300.0 565.0,300.0 565.0,313.0 535.0,313.0" fill="#6c8ff1"/>
<polygon points="540.0,304.0 546.0,304.0 546.0,308.0 540.0,308.0" fill="#a3c2fe"/>
<polygon points="545.0,309.0 552.0,309.0 552.0,312.0 545.0,312.0" fill="#d6dce4"/>
<polygon points="538.0,312.0 556.0,312.0 556.0,314.5 538.0,314.5" fill="#f7b194"/>
<polygon points="537.8,313.5 556.5,313.5 556.5,328.3 537.8,328.3" fill="#b40426"/>
<polygon points="537.8,328.3 544.8,328.3 544.8,336.5 537.8,336.5" fill="#b40426"/>
<polygon points="547.0,334.0 554.0,334.0 554.0,341.0 547.0,341.0" fill="#b40426"/>
<polygon points="545.0,328.3 556.0,328.3 556.0,334.0 545.0,334.0" fill="#92b4fe"/>
<polygon points="565.0,250.0 640.0,250.0 640.0,265.0 565.0,265.0" fill="#6c8ff1"/>
<polygon points="565.0,250.0 590.0,250.0 590.0,256.0 565.0,256.0" fill="#4a63d3"/>
<polygon points="585.0,256.0 600.0,256.0 600.0,262.0 585.0,262.0" fill="#92b4fe"/>
<polygon points="592.0,265.0 614.0,265.0 614.0,270.0 592.0,270.0" fill="#7ea1fa"/>
<polygon points="567.3,266.5 577.8,266.5 577.8,273.5 567.3,273.5" fill="#b40426"/>
<polygon points="578.0,268.0 586.6,268.0 586.6,276.6 578.0,276.6" fill="#b40426"/>
<polygon points="572.0,270.0 578.0,270.0 578.0,274.0 572.0,274.0" fill="#5a78e4"/>
<polygon points="614.6,265.0 627.0,265.0 628.6,283.6 614.6,283.6" fill="#b40426"/>
<polygon points="593.6,272.0 617.0,272.0 617.0,283.6 593.6,283.6" fill="#b40426"/>
<polygon points="596.0,270.5 605.0,270.5 605.0,276.0 596.0,276.0" fill="#5a78e4"/>
<polygon points="603.0,277.0 607.0,277.0 607.0,280.0 603.0,280.0" fill="#f7b194"/>
<polygon points="582.5,274.0 596.0,274.0 596.0,286.0 582.5,286.0" fill="#b40426"/>
<polygon points="563.0,276.6 582.5,276.6 582.5,286.0 563.0,286.0" fill="#b40426"/>
<polygon points="566.0,279.0 572.0,279.0 572.0,283.0 566.0,283.0" fill="#5a78e4"/>
<polygon points="575.0,279.0 578.0,279.0 578.0,282.0 575.0,282.0" fill="#f59f80"/>
<polygon points="589.4,286.0 604.5,286.0 604.5,305.0 589.4,305.0" fill="#92b4fe"/>
<polygon points="592.0,290.0 598.0,290.0 598.0,296.0 592.0,296.0" fill="#c6d6f1"/>
<polygon points="596.0,284.0 630.0,284.0 630.0,300.0 596.0,300.0" fill="#6c8ff1"/>
<polygon points="600.0,300.0 660.0,300.0 660.0,330.0 600.0,330.0" fill="#7ea1fa"/>
<polygon points="554.0,290.6 563.0,290.6 563.0,297.6 554.0,297.6" fill="#b40426"/>
<polygon points="563.0,290.6 572.6,290.6 572.6,295.3 563.0,295.3" fill="#b40426"/>
<polygon points="635.7,331.0 653.2,331.0 653.2,345.0 635.7,345.0" fill="#6c8ff1"/>
<polygon points="638.0,333.0 650.0,333.0 650.0,342.0 638.0,342.0" fill="#a3c2fe"/>
<polygon points="641.5,333.4 645.0,333.4 645.0,338.0 641.5,338.0" fill="#d6dce4"/>
</g>
<g transform="translate(527.05,310.70) scale(1.0165)" fill="none">
<use href="#bord" stroke="#000" stroke-width="0.4" stroke-opacity="0.9" stroke-linejoin="round"/>
<use href="#grat" stroke="#bbbbbb" stroke-width="0.5"/>
<use href="#land" stroke="#000" stroke-width="0.5" stroke-linejoin="round"/>
<use href="#ant" stroke="#000" stroke-width="0.75" stroke-linejoin="round"/>
<use href="#frame" stroke="#000" stroke-width="1.3"/>
</g>
<text x="394.4" y="254.3" class="tl" text-anchor="end" font-size="6.61">60°N</text>
<text x="369.1" y="283.2" class="tl" text-anchor="end" font-size="6.61">30°N</text>
<text x="365.1" y="312.7" class="tl" text-anchor="end" font-size="6.61">0°</text>
<text x="369.1" y="342.3" class="tl" text-anchor="end" font-size="6.61">30°S</text>
<text x="394.4" y="371.1" class="tl" text-anchor="end" font-size="6.61">60°S</text>
<text x="485.7" y="399.1" class="tl" text-anchor="middle" font-size="6.61">90°W</text>
<text x="527.4" y="399.1" class="tl" text-anchor="middle" font-size="6.61">0°</text>
<text x="569.2" y="399.1" class="tl" text-anchor="middle" font-size="6.61">90°E</text>
<rect x="473.17" y="411.84" width="6.07" height="8.54" fill="#3b4cc0"/>
<rect x="478.64" y="411.84" width="6.07" height="8.54" fill="#4a63d3"/>
<rect x="484.11" y="411.84" width="6.07" height="8.54" fill="#5a78e4"/>
<rect x="489.58" y="411.84" width="6.07" height="8.54" fill="#6c8ff1"/>
<rect x="495.05" y="411.84" width="6.07" height="8.54" fill="#7ea1fa"/>
<rect x="500.52" y="411.84" width="6.07" height="8.54" fill="#92b4fe"/>
<rect x="505.99" y="411.84" width="6.07" height="8.54" fill="#a3c2fe"/>
<rect x="511.46" y="411.84" width="6.07" height="8.54" fill="#b6cefa"/>
<rect x="516.93" y="411.84" width="6.07" height="8.54" fill="#c6d6f1"/>
<rect x="522.39" y="411.84" width="6.07" height="8.54" fill="#d6dce4"/>
<rect x="527.86" y="411.84" width="6.07" height="8.54" fill="#e3d9d3"/>
<rect x="533.33" y="411.84" width="6.07" height="8.54" fill="#efcfbf"/>
<rect x="538.80" y="411.84" width="6.07" height="8.54" fill="#f5c2aa"/>
<rect x="544.27" y="411.84" width="6.07" height="8.54" fill="#f7b194"/>
<rect x="549.74" y="411.84" width="6.07" height="8.54" fill="#f59f80"/>
<rect x="555.21" y="411.84" width="6.07" height="8.54" fill="#ef886b"/>
<rect x="560.68" y="411.84" width="6.07" height="8.54" fill="#e57058"/>
<rect x="566.15" y="411.84" width="6.07" height="8.54" fill="#d75445"/>
<rect x="571.61" y="411.84" width="6.07" height="8.54" fill="#c73635"/>
<rect x="577.08" y="411.84" width="5.47" height="8.54" fill="#b40426"/>
<rect x="473.17" y="411.84" width="109.38" height="8.54" fill="none" stroke="#000" stroke-width="0.5"/>
<line x1="473.17" y1="420.37" x2="473.17" y2="422.41" stroke="#000" stroke-width="0.6"/>
<text x="473.37" y="428.61" class="cb" text-anchor="middle" font-size="5.90">0</text>
<line x1="495.05" y1="420.37" x2="495.05" y2="422.41" stroke="#000" stroke-width="0.6"/>
<text x="495.25" y="428.61" class="cb" text-anchor="middle" font-size="5.90">2</text>
<line x1="516.93" y1="420.37" x2="516.93" y2="422.41" stroke="#000" stroke-width="0.6"/>
<text x="517.13" y="428.61" class="cb" text-anchor="middle" font-size="5.90">4</text>
<line x1="538.80" y1="420.37" x2="538.80" y2="422.41" stroke="#000" stroke-width="0.6"/>
<text x="539.00" y="428.61" class="cb" text-anchor="middle" font-size="5.90">6</text>
<line x1="560.68" y1="420.37" x2="560.68" y2="422.41" stroke="#000" stroke-width="0.6"/>
<text x="560.88" y="428.61" class="cb" text-anchor="middle" font-size="5.90">8</text>
<line x1="582.55" y1="420.37" x2="582.55" y2="422.41" stroke="#000" stroke-width="0.6"/>
<text x="582.75" y="428.61" class="cb" text-anchor="middle" font-size="5.90">10</text>
<text x="528.17" y="409.70" class="tl" text-anchor="middle" font-size="8.13">Co-P (mol kg<tspan dy="-3.25" font-size="5.69">−1</tspan><tspan dy="3.25">)</tspan></text>
<text x="527.3" y="226.0" class="tt" text-anchor="middle" font-size="9.03">Concomitant pollution caused by <tspan class="it">HNO<tspan dy="1.83" font-size="6.40">3</tspan><tspan dy="-1.83" class="sl" rotate="-5">/</tspan><tspan>NO</tspan><tspan dy="1.83" font-size="6.40">3</tspan><tspan dx="-3.76" dy="-5.69" font-size="5.69">−</tspan></tspan><tspan dy="3.86"> in July</tspan></text>
<text x="-0.8" y="10.5" class="pl">a</text>
<text x="344.6" y="14.1" class="pl">b</text>
<text x="-0.8" y="240.8" class="pl">c</text>
<text x="349.6" y="240.6" class="pl">d</text>
</svg></body></html>
